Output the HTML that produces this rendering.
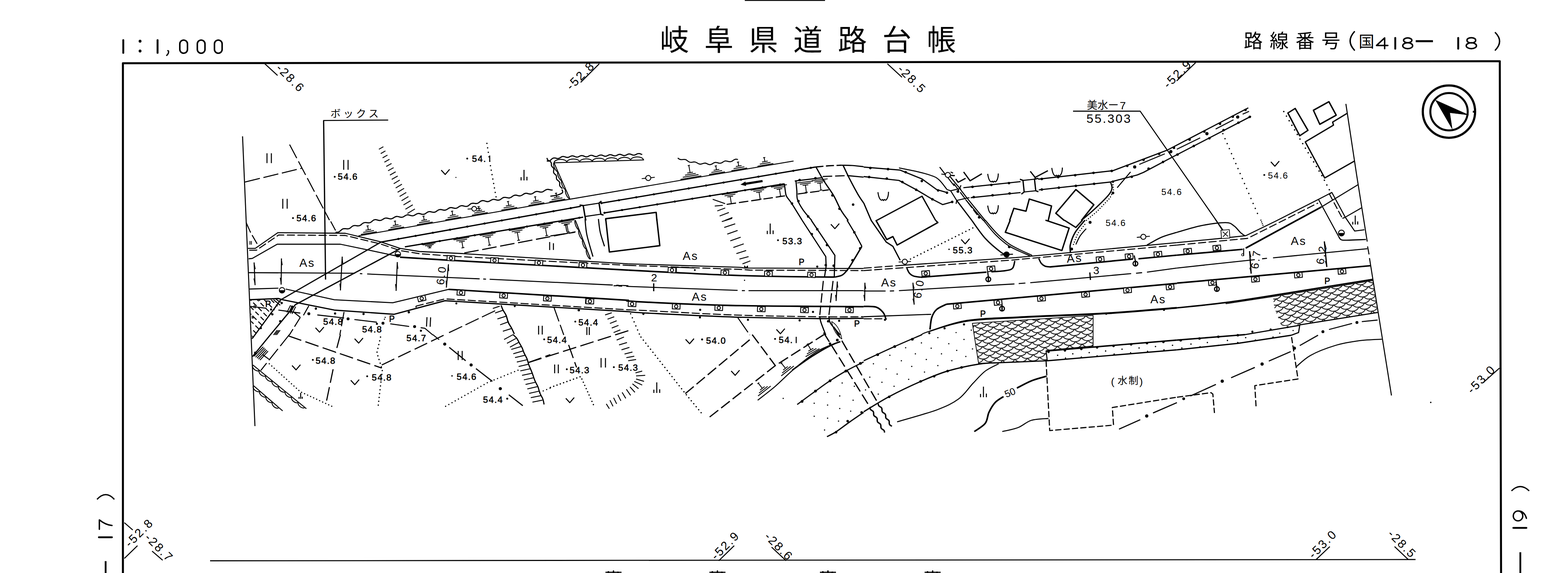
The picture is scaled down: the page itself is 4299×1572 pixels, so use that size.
<!DOCTYPE html>
<html><head><meta charset="utf-8"><title>map</title>
<style>html,body{margin:0;padding:0;background:#fff}svg{display:block}
text{font-family:"Liberation Sans",sans-serif;fill:#000;stroke:none}
</style></head><body>
<svg width="4299" height="1572" viewBox="0 0 4299 1572" fill="none" stroke="#000" stroke-linejoin="round">
<rect width="4299" height="1572" fill="#fff" stroke="none"/>
<path d="M337 1580 L337 173.5 L4112 168 L4115.5 1580" stroke-width="5.5"/>
<path d="M576 1538.5 L3881 1535" stroke-width="2.8"/>
<text x="1809" y="137.7" font-size="80" letter-spacing="42" style="font-family:'Liberation Sans','Noto Sans CJK JP',sans-serif">岐阜県道路台帳</text>
<text x="3410" y="130.5" font-size="52" letter-spacing="19" style="font-family:'Liberation Sans','Noto Sans CJK JP',sans-serif">路線番号</text>
<text x="3725" y="130" font-size="43" style="font-family:'Liberation Sans','Noto Sans CJK JP',sans-serif">国</text>
<path d="M3713.3 87 Q3690 112.5 3713.3 137.5 M4099.8 89.5 Q4123 113 4099.8 137.5" stroke-width="3.8" stroke-linecap="round"/>
<path d="M3796.3 133.5 V104 L3774 124.7 H3805" stroke-width="4" stroke-linecap="round"/>
<path d="M3848.2 110.6 a11.3 6.6 0 1 0 22.7 0 a11.3 6.6 0 1 0 -22.7 0 Z M3846 125.4 a13.5 8.1 0 1 0 27 0 a13.5 8.1 0 1 0 -27 0 Z" stroke-width="4" stroke-linecap="round"/>
<path d="M4022.2 110.6 a11.8 6.6 0 1 0 23.5 0 a11.8 6.6 0 1 0 -23.5 0 Z M4020 125.4 a14 8.1 0 1 0 28 0 a14 8.1 0 1 0 -28 0 Z" stroke-width="4" stroke-linecap="round"/>
<path d="M3825.4 104 L3825.4 133.5" stroke-width="5.2" stroke-linecap="round"/>
<path d="M3998 104 L3998 133.5" stroke-width="5.2" stroke-linecap="round"/>
<path d="M3881.5 113 L3928.7 113" stroke-width="5.5"/>
<path d="M338 110 L338 145" stroke-width="5.2" stroke-linecap="round"/>
<path d="M432 110 L432 145" stroke-width="5.2" stroke-linecap="round"/>
<circle cx="384" cy="113" r="3.9" fill="#000" stroke="none"/>
<circle cx="384" cy="140" r="3.9" fill="#000" stroke="none"/>
<path d="M460 139 q3 0 2 5 q-1 5 -5 8" stroke-width="3.5" stroke-linecap="round"/>
<path d="M493 120.5 a10.5 10.5 0 0 1 21 0 v15 a10.5 10.5 0 0 1 -21 0 Z" stroke-width="4.2" stroke-linecap="round"/>
<path d="M541 120.5 a10.5 10.5 0 0 1 21 0 v15 a10.5 10.5 0 0 1 -21 0 Z" stroke-width="4.2" stroke-linecap="round"/>
<path d="M588 120.5 a10.5 10.5 0 0 1 21 0 v15 a10.5 10.5 0 0 1 -21 0 Z" stroke-width="4.2" stroke-linecap="round"/>
<path d="M725 174 L761 207" stroke-width="2.8"/>
<text x="0" y="0" font-size="33" letter-spacing="4" transform="translate(755 189) rotate(45) scale(1 1)">-28.6</text>
<path d="M1643 175 L1592 226" stroke-width="2.8"/>
<text x="0" y="0" font-size="33" letter-spacing="4" transform="translate(1566 249) rotate(-45) scale(1 1)">-52.8</text>
<path d="M2433 175 L2473 212" stroke-width="2.8"/>
<text x="0" y="0" font-size="33" letter-spacing="4" transform="translate(2459 192) rotate(45) scale(1 1)">-28.5</text>
<path d="M3278 172 L3226 222" stroke-width="2.8"/>
<text x="0" y="0" font-size="33" letter-spacing="4" transform="translate(3203 244) rotate(-45) scale(1 1)">-52.9</text>
<path d="M4111 1010 L4066 1050" stroke-width="2.8"/>
<text x="0" y="0" font-size="33" letter-spacing="4" transform="translate(4036 1082) rotate(-45) scale(1 1)">-53.0</text>
<path d="M1970.5 1538.5 L2013 1497" stroke-width="2.8"/>
<text x="0" y="0" font-size="33" letter-spacing="4" transform="translate(1963 1538) rotate(-45) scale(1 1)">-52.9</text>
<path d="M2115.5 1501 L2155.5 1538.5" stroke-width="2.8"/>
<text x="0" y="0" font-size="33" letter-spacing="4" transform="translate(2094 1474) rotate(45) scale(1 1)">-28.6</text>
<path d="M3608.5 1535 L3646 1499.5" stroke-width="2.8"/>
<text x="0" y="0" font-size="33" letter-spacing="4" transform="translate(3601 1534) rotate(-45) scale(1 1)">-53.0</text>
<path d="M3823.5 1499.5 L3861 1535" stroke-width="2.8"/>
<text x="0" y="0" font-size="33" letter-spacing="4" transform="translate(3803 1467) rotate(45) scale(1 1)">-28.5</text>
<path d="M341 1434 L364 1454" stroke-width="2.8"/>
<path d="M341 1532 L377 1497" stroke-width="2.8"/>
<text x="0" y="0" font-size="33" letter-spacing="4" transform="translate(356 1503) rotate(-45) scale(1 1)">-52.8</text>
<path d="M417 1512 L446 1537" stroke-width="2.8"/>
<text x="0" y="0" font-size="33" letter-spacing="4" transform="translate(395 1477) rotate(45) scale(1 1)">-28.7</text>
<path d="M0 0 H25.7 Q11.6 17.4 10.3 34.7" stroke-width="3.8" stroke-linecap="round" transform="translate(272.4 1452) rotate(-90)"/>
<path d="M271 1474 L307 1474" stroke-width="4.9" stroke-linecap="round"/>
<path d="M289.6 1539.4 L289.6 1580" stroke-width="4.9"/>
<path d="M266 1370 Q290 1344 313.5 1370" stroke-width="3.5"/>
<path d="M27 13 a13.5 13 0 1 0 -27 0 a13.5 13 0 1 0 27 0 M27 13 Q27 30.6 6.8 36" stroke-width="3.8" stroke-linecap="round" transform="translate(4149 1428.9) rotate(-90)"/>
<path d="M4149 1448.2 L4185 1448.2" stroke-width="4.9" stroke-linecap="round"/>
<path d="M4168.3 1515 L4168.3 1580" stroke-width="4.9"/>
<path d="M4144 1346.7 Q4168 1323 4192.6 1346.7" stroke-width="3.5"/>
<circle cx="3972.6" cy="306.2" r="71.7" stroke-width="6" fill="none"/>
<circle cx="3972.8" cy="306.5" r="51.2" stroke-width="5.5" fill="none"/>
<path d="M3935.8 274.7 L4026.7 315.4 L3974.8 309.2 L3981.5 353.8 Z" fill="#000" stroke-width="1"/>
<path d="M4038 306.5 L4044 306.5" stroke-width="5"/>
<path d="M2042 1 L2262 1" stroke-width="2.8"/>
<path d="M1668 1567 L1668 1573" stroke-width="3.8"/>
<path d="M1682 1565 L1682 1573" stroke-width="3.8"/>
<path d="M1694 1568 L1694 1573" stroke-width="3.8"/>
<path d="M1660 1570 L1704 1570" stroke-width="3.1"/>
<path d="M1953 1567 L1953 1573" stroke-width="3.8"/>
<path d="M1967 1565 L1967 1573" stroke-width="3.8"/>
<path d="M1979 1568 L1979 1573" stroke-width="3.8"/>
<path d="M1945 1570 L1989 1570" stroke-width="3.1"/>
<path d="M2256 1567 L2256 1573" stroke-width="3.8"/>
<path d="M2270 1565 L2270 1573" stroke-width="3.8"/>
<path d="M2282 1568 L2282 1573" stroke-width="3.8"/>
<path d="M2248 1570 L2292 1570" stroke-width="3.1"/>
<path d="M2543 1567 L2543 1573" stroke-width="3.8"/>
<path d="M2557 1565 L2557 1573" stroke-width="3.8"/>
<path d="M2569 1568 L2569 1573" stroke-width="3.8"/>
<path d="M2535 1570 L2579 1570" stroke-width="3.1"/>
<path d="M665 374 L699 1169" stroke-width="2.8"/>
<path d="M671.7 499.3 L826.7 461.7" stroke-width="2.8" stroke-dasharray="42 10"/>
<path d="M794 396.7 L903.3 604" stroke-width="2.8" stroke-dasharray="42 10"/>
<path transform="translate(738 434) rotate(0)" d="M-6 -13.5 V13.5 M6 -13.5 V13.5" stroke-width="2.8"/>
<path transform="translate(948.3 452.3) rotate(0)" d="M-6 -13.5 V13.5 M6 -13.5 V13.5" stroke-width="2.8"/>
<path transform="translate(781.3 559) rotate(0)" d="M-6 -13.5 V13.5 M6 -13.5 V13.5" stroke-width="2.8"/>
<text x="906" y="322" font-size="28" letter-spacing="7" style="font-family:'Liberation Sans','Noto Sans CJK JP',sans-serif">ボックス</text>
<path d="M886 330.7 L1064.3 329.3" stroke-width="2.8"/>
<path d="M887.3 330.7 L892.6 767" stroke-width="3.4"/>
<circle cx="917.7" cy="485" r="2.5" fill="#000" stroke="none"/>
<text x="926" y="493.3" font-size="24.5" letter-spacing="2" style="stroke:#000;stroke-width:0.8px;stroke-linejoin:round">54.6</text>
<circle cx="803.3" cy="598.3" r="2.5" fill="#000" stroke="none"/>
<text x="812.7" y="607.3" font-size="24.5" letter-spacing="2" style="stroke:#000;stroke-width:0.8px;stroke-linejoin:round">54.6</text>
<circle cx="1281" cy="435" r="2.5" fill="#000" stroke="none"/>
<text x="1294" y="444" font-size="24.5" letter-spacing="2" style="stroke:#000;stroke-width:0.8px;stroke-linejoin:round">54.</text>
<path d="M1342.7 426.7 L1342.7 444" stroke-width="2.8"/>
<path d="M1038.9 409.5 L1051.1 402.5" stroke-width="2.5"/>
<path d="M1043.9 421.3 L1056.7 414" stroke-width="2.5"/>
<path d="M1049 433.1 L1062.3 425.5" stroke-width="2.5"/>
<path d="M1054 444.9 L1067.9 437" stroke-width="2.5"/>
<path d="M1059 456.7 L1073.5 448.5" stroke-width="2.5"/>
<path d="M1064 468.5 L1079.1 460" stroke-width="2.5"/>
<path d="M1069.1 480.3 L1084.7 471.4" stroke-width="2.5"/>
<path d="M1074.1 492.1 L1090.3 482.9" stroke-width="2.5"/>
<path d="M1079.5 504 L1096 494" stroke-width="2.5"/>
<path d="M1084.9 515.7 L1102 505.3" stroke-width="2.5"/>
<path d="M1090.2 527.4 L1107.9 516.7" stroke-width="2.5"/>
<path d="M1095.6 539 L1113.8 528" stroke-width="2.5"/>
<path d="M1100.9 550.7 L1119.8 539.3" stroke-width="2.5"/>
<path d="M1106.3 562.3 L1125.7 550.6" stroke-width="2.5"/>
<path d="M1111.6 574 L1131.6 561.9" stroke-width="2.5"/>
<path d="M1117 585.7 L1137.5 573.2" stroke-width="2.5"/>
<path d="M1209.7 466.7 L1220.7 478.7 L1232.7 464.7" stroke-width="2.8"/>
<circle cx="1250" cy="486.7" r="1.5" fill="#000" stroke="none"/>
<path d="M1335 393.3 L1345 456.7 L1360 540" stroke-width="3.7" stroke-dasharray="0.1 12.3" stroke-linecap="round"/>
<path d="M1436.7 495 v-29 M1428.7 495 v-9 M1444.7 495 v-10" stroke-width="2.8"/>
<path d="M920 637 C920.7 637 922.7 637.3 924 637.3 C925.4 637.2 926.6 637.1 927.8 636.7 C929 636.3 930.1 635.7 931.2 634.9 C932.2 634.2 933.2 633.1 934.2 632.3 C935.3 631.4 936.2 630.3 937.3 629.6 C938.4 628.9 939.5 628.2 940.6 627.8 C941.8 627.4 943.1 627.3 944.4 627.2 C945.7 627.2 947.1 627.4 948.5 627.5 C949.8 627.6 951.2 627.9 952.5 627.9 C953.8 627.9 955.1 627.8 956.3 627.5 C957.5 627.2 958.6 626.5 959.7 625.9 C960.8 625.2 961.8 624.2 962.9 623.3 C963.9 622.5 964.9 621.5 966 620.8 C967.1 620.1 968.3 619.5 969.5 619.1 C970.7 618.8 971.9 618.7 973.3 618.7 C974.6 618.7 975.9 619 977.3 619.2 C978.6 619.4 980 619.7 981.3 619.7 C982.6 619.7 983.9 619.6 985.1 619.3 C986.3 618.9 987.4 618.3 988.5 617.6 C989.6 616.9 990.6 615.9 991.7 615.1 C992.8 614.2 993.8 613.2 994.9 612.5 C996 611.8 997.1 611.2 998.3 610.9 C999.5 610.5 1000.8 610.5 1002.1 610.5 C1003.4 610.5 1004.8 610.8 1006.1 610.9 C1007.5 611.1 1008.8 611.4 1010.2 611.4 C1011.5 611.4 1012.7 611.3 1013.9 611 C1015.1 610.6 1016.3 610 1017.4 609.3 C1018.5 608.6 1019.5 607.6 1020.5 606.8 C1021.6 605.9 1022.6 604.9 1023.7 604.2 C1024.9 603.5 1026.2 602.9 1027.4 602.7 C1028.7 602.4 1030 602.6 1031.3 602.7 C1032.5 602.9 1033.9 603.4 1035.2 603.7 C1036.5 604.1 1037.8 604.5 1039.1 604.7 C1040.4 604.9 1041.7 605 1042.9 604.8 C1044.2 604.6 1045.4 604.2 1046.5 603.6 C1047.7 603.1 1048.9 602.2 1050 601.5 C1051.2 600.8 1052.3 600 1053.5 599.5 C1054.7 598.9 1055.9 598.4 1057.1 598.3 C1058.4 598.1 1059.6 598.2 1060.9 598.4 C1062.2 598.5 1063.6 599 1064.9 599.3 C1066.2 599.7 1067.5 600.2 1068.8 600.3 C1070.1 600.5 1071.4 600.6 1072.6 600.4 C1073.8 600.2 1075 599.8 1076.2 599.2 C1077.4 598.7 1078.5 597.8 1079.7 597.1 C1080.9 596.4 1082 595.6 1083.2 595.1 C1084.4 594.5 1085.6 594.1 1086.8 593.9 C1088 593.7 1089.3 593.8 1090.6 594 C1091.9 594.1 1093.2 594.6 1094.5 594.9 C1095.9 595.3 1097.2 595.8 1098.5 595.9 C1099.8 596.1 1101 596.2 1102.3 596 C1103.5 595.8 1104.7 595.4 1105.9 594.8 C1107.1 594.3 1108.2 593.4 1109.4 592.7 C1110.5 592 1111.7 591.2 1112.9 590.7 C1114.1 590.1 1115.3 589.6 1116.5 589.5 C1117.8 589.3 1119 589.4 1120.3 589.6 C1121.6 589.9 1122.9 590.4 1124.2 590.7 C1125.5 591.1 1126.9 591.6 1128.2 591.8 C1129.4 592 1130.7 592.1 1132 592 C1133.2 591.8 1134.4 591.4 1135.6 590.9 C1136.8 590.3 1137.9 589.5 1139.1 588.9 C1140.3 588.2 1141.5 587.4 1142.7 586.9 C1143.8 586.3 1145.1 585.9 1146.3 585.7 C1147.5 585.6 1148.8 585.7 1150.1 585.9 C1151.4 586.1 1152.7 586.7 1154 587 C1155.3 587.3 1156.7 587.8 1158 588 C1159.3 588.1 1160.6 588.1 1161.8 587.9 C1163 587.7 1164.2 587.2 1165.4 586.6 C1166.5 586 1167.6 585.1 1168.8 584.3 C1169.9 583.6 1171 582.7 1172.1 582.1 C1173.3 581.5 1174.5 581 1175.7 580.7 C1176.9 580.5 1178.2 580.5 1179.5 580.6 C1180.8 580.8 1182.2 581.2 1183.5 581.5 C1184.8 581.7 1186.2 582.1 1187.5 582.3 C1188.8 582.4 1190 582.4 1191.3 582.2 C1192.5 581.9 1193.7 581.4 1194.8 580.8 C1196 580.2 1197.1 579.3 1198.2 578.6 C1199.3 577.8 1200.4 576.9 1201.6 576.3 C1202.8 575.7 1203.9 575.2 1205.2 575 C1206.4 574.8 1207.7 574.8 1209 574.9 C1210.3 575 1211.6 575.5 1212.9 575.7 C1214.3 576 1215.6 576.4 1216.9 576.5 C1218.2 576.7 1219.5 576.7 1220.7 576.5 C1221.9 576.3 1223.1 575.8 1224.3 575.2 C1225.4 574.7 1226.6 573.8 1227.7 573.1 C1228.8 572.3 1230 571.5 1231.1 570.9 C1232.3 570.3 1233.5 569.8 1234.7 569.6 C1235.9 569.4 1237.2 569.5 1238.5 569.6 C1239.8 569.7 1241.2 570.2 1242.5 570.5 C1243.8 570.8 1245.1 571.2 1246.4 571.4 C1247.7 571.5 1249 571.6 1250.2 571.4 C1251.5 571.1 1252.7 570.7 1253.8 570.1 C1255 569.5 1256.1 568.6 1257.2 567.9 C1258.4 567.2 1259.5 566.3 1260.7 565.7 C1261.8 565.1 1263 564.7 1264.3 564.4 C1265.5 564.2 1266.8 564.3 1268.1 564.4 C1269.4 564.6 1270.7 565 1272 565.3 C1273.3 565.6 1274.7 566.1 1276 566.2 C1277.3 566.3 1278.6 566.4 1279.8 566.2 C1281 566 1282.2 565.5 1283.4 564.9 C1284.5 564.3 1285.6 563.2 1286.7 562.3 C1287.8 561.5 1288.8 560.5 1289.8 559.8 C1290.9 559 1292.1 558.4 1293.3 558.1 C1294.5 557.7 1295.7 557.6 1297 557.6 C1298.3 557.6 1299.7 557.9 1301.1 558 C1302.4 558.1 1303.8 558.4 1305.1 558.4 C1306.4 558.4 1307.7 558.3 1308.9 558 C1310.1 557.6 1311.2 557 1312.3 556.3 C1313.4 555.6 1314.3 554.5 1315.4 553.7 C1316.5 552.9 1317.7 552 1318.9 551.5 C1320.1 551 1321.4 550.6 1322.6 550.4 C1323.8 550.3 1325.1 550.4 1326.4 550.6 C1327.7 550.9 1329 551.4 1330.3 551.8 C1331.6 552.1 1332.9 552.7 1334.2 552.9 C1335.5 553.1 1336.8 553.2 1338 553.1 C1339.2 552.9 1340.4 552.5 1341.6 552 C1342.8 551.5 1344 550.7 1345.2 550 C1346.4 549.4 1347.5 548.6 1348.7 548.1 C1349.9 547.6 1351.2 547.1 1352.4 547 C1353.6 546.9 1354.9 547 1356.2 547.2 C1357.5 547.4 1358.8 548 1360.1 548.3 C1361.4 548.6 1362.8 549 1364.1 549.1 C1365.4 549.2 1366.7 549.2 1367.9 549 C1369.1 548.7 1370.3 548.2 1371.4 547.6 C1372.6 547 1373.7 546 1374.8 545.3 C1375.9 544.5 1377 543.6 1378.1 543 C1379.3 542.4 1380.5 541.9 1381.7 541.6 C1382.9 541.4 1384.2 541.4 1385.5 541.5 C1386.8 541.6 1388.2 542 1389.5 542.3 C1390.8 542.5 1392.2 542.9 1393.5 543 C1394.8 543.1 1396 543.2 1397.3 542.9 C1398.5 542.7 1399.7 542.1 1400.8 541.5 C1402 540.9 1403.1 540 1404.2 539.2 C1405.3 538.5 1406.4 537.6 1407.5 537 C1408.7 536.3 1409.8 535.8 1411.1 535.6 C1412.3 535.3 1413.6 535.3 1414.9 535.4 C1416.2 535.6 1417.6 536 1418.9 536.3 C1420.2 536.6 1421.5 537.1 1422.8 537.2 C1424.1 537.4 1425.4 537.4 1426.6 537.2 C1427.9 537 1429.1 536.6 1430.2 536 C1431.4 535.4 1432.5 534.5 1433.7 533.8 C1434.8 533.1 1435.9 532.2 1437.1 531.7 C1438.3 531.1 1439.5 530.6 1440.7 530.4 C1441.9 530.2 1443.2 530.3 1444.5 530.4 C1445.8 530.6 1447.2 531.1 1448.5 531.4 C1449.8 531.7 1451.1 532.1 1452.4 532.3 C1453.7 532.4 1455 532.5 1456.2 532.3 C1457.5 532.1 1458.7 531.6 1459.8 531.1 C1461 530.5 1462.1 529.6 1463.3 528.9 C1464.4 528.2 1465.5 527.3 1466.7 526.7 C1467.8 526.2 1469 525.6 1470.2 525.4 C1471.5 525.2 1472.7 525.2 1474 525.3 C1475.3 525.4 1476.7 525.9 1478 526.1 C1479.3 526.4 1480.7 526.8 1482 527 C1483.3 527.1 1484.6 527.1 1485.8 526.9 C1487 526.6 1488.2 526.1 1489.3 525.5 C1490.5 524.9 1491.6 524 1492.7 523.3 C1493.9 522.5 1495 521.7 1496.1 521.1 C1497.3 520.5 1498.5 519.9 1499.7 519.7 C1500.9 519.5 1502.2 519.5 1503.5 519.6 C1504.8 519.8 1506.1 520.2 1507.5 520.4 C1508.8 520.7 1510.1 521.1 1511.4 521.3 C1512.7 521.4 1514.6 521.2 1515.2 521.2" stroke-width="3.1"/>
<g transform="translate(1300 572.7) rotate(-3)"><path d="M-18 0 H18" stroke-width="2.4"/><circle r="6.5" stroke-width="2.4" fill="#fff"/></g>
<path d="M1499 441.7 C1499.6 441.7 1501.4 442 1502.5 442 C1503.7 442 1504.8 441.9 1505.8 441.5 C1506.8 441.2 1507.8 440.6 1508.7 440 C1509.6 439.3 1510.5 438.4 1511.4 437.6 C1512.2 436.8 1513.1 435.9 1514 435.3 C1514.9 434.6 1515.9 434 1516.9 433.7 C1517.9 433.3 1519 433.2 1520.2 433.2 C1521.3 433.2 1522.6 433.5 1523.8 433.8 C1524.9 434.1 1526.1 434.6 1527.2 434.8 C1528.3 435 1529.4 435.1 1530.5 434.9 C1531.5 434.8 1532.6 434.4 1533.6 433.9 C1534.6 433.4 1535.6 432.7 1536.6 432.1 C1537.7 431.5 1538.7 430.7 1539.7 430.3 C1540.7 429.8 1541.8 429.4 1542.8 429.3 C1543.9 429.1 1545 429.2 1546.1 429.4 C1547.2 429.6 1548.4 430 1549.5 430.4 C1550.6 430.7 1551.7 431.1 1552.8 431.4 C1553.9 431.7 1555 431.9 1556.1 431.9 C1557.1 431.9 1558.2 431.6 1559.3 431.2 C1560.4 430.8 1561.4 430.2 1562.5 429.7 C1563.6 429.2 1564.6 428.6 1565.7 428.2 C1566.8 427.8 1567.9 427.5 1568.9 427.5 C1570 427.5 1571.1 427.7 1572.2 428 C1573.3 428.3 1574.4 428.9 1575.5 429.3 C1576.6 429.8 1577.7 430.3 1578.8 430.6 C1579.9 430.9 1581 431.2 1582.1 431.1 C1583.1 431.1 1584.2 430.8 1585.3 430.4 C1586.4 430.1 1587.4 429.4 1588.5 428.9 C1589.6 428.4 1590.6 427.8 1591.7 427.4 C1592.8 427.1 1593.8 426.8 1594.9 426.7 C1596 426.7 1597.1 426.9 1598.2 427.2 C1599.3 427.5 1600.4 428.1 1601.5 428.5 C1602.6 429 1603.7 429.6 1604.8 429.9 C1605.9 430.2 1607 430.4 1608 430.4 C1609.1 430.3 1610.2 430 1611.3 429.7 C1612.3 429.3 1613.4 428.7 1614.5 428.2 C1615.5 427.7 1616.6 427 1617.7 426.6 C1618.8 426.3 1619.8 426 1620.9 426 C1622 425.9 1623.1 426.2 1624.2 426.5 C1625.3 426.8 1626.4 427.3 1627.5 427.8 C1628.6 428.2 1629.7 428.8 1630.8 429.1 C1631.9 429.4 1632.9 429.6 1634 429.6 C1635.1 429.5 1636.2 429.3 1637.3 428.9 C1638.3 428.5 1639.4 427.9 1640.5 427.4 C1641.5 426.9 1642.6 426.2 1643.7 425.9 C1644.7 425.5 1645.8 425.2 1646.9 425.2 C1648 425.1 1649.1 425.3 1650.2 425.6 C1651.3 425.9 1652.4 426.5 1653.5 426.9 C1654.6 427.4 1655.7 427.9 1656.8 428.2 C1657.9 428.5 1658.9 428.8 1660 428.7 C1661.1 428.7 1662.2 428.4 1663.3 428 C1664.3 427.6 1665.4 427 1666.5 426.5 C1667.5 426 1668.6 425.3 1669.7 425 C1670.7 424.6 1671.8 424.3 1672.9 424.3 C1674 424.2 1675.1 424.4 1676.1 424.7 C1677.2 425 1678.3 425.6 1679.4 426 C1680.5 426.5 1681.6 427 1682.7 427.3 C1683.8 427.6 1684.9 427.8 1686 427.8 C1687.1 427.8 1688.2 427.5 1689.2 427.1 C1690.3 426.7 1691.4 426.1 1692.4 425.6 C1693.5 425.1 1694.6 424.4 1695.6 424.1 C1696.7 423.7 1697.8 423.4 1698.9 423.4 C1699.9 423.3 1701 423.5 1702.1 423.8 C1703.2 424.1 1704.3 424.7 1705.4 425.1 C1706.5 425.6 1707.6 426.1 1708.7 426.4 C1709.8 426.7 1710.9 426.9 1712 426.9 C1713.1 426.8 1714.2 426.5 1715.2 426.1 C1716.3 425.8 1717.4 425.1 1718.4 424.6 C1719.5 424.1 1720.5 423.4 1721.6 423 C1722.7 422.7 1723.7 422.4 1724.8 422.3 C1725.9 422.3 1727 422.5 1728.1 422.7 C1729.2 423 1730.3 423.6 1731.4 424 C1732.5 424.4 1733.6 425 1734.7 425.3 C1735.8 425.6 1736.9 425.8 1738 425.7 C1739.1 425.7 1740.1 425.4 1741.2 425 C1742.3 424.6 1743.3 424 1744.4 423.5 C1745.5 422.9 1746.5 422.3 1747.6 421.9 C1748.6 421.5 1749.7 421.2 1750.8 421.2 C1751.9 421.1 1753 421.3 1754.1 421.6 C1755.2 421.9 1756.3 422.5 1757.4 422.9 C1758.5 423.3 1760.1 423.9 1760.7 424.2" stroke-width="3.1"/>
<path d="M1519 446.7 L1765.7 438.7" stroke-width="2.5"/>
<path d="M1519 446.7 A17.5 8.8 -1.9 0 1 1554 445.5 M1554 445.5 A17.5 8.8 -1.9 0 1 1589 444.4 M1589 444.4 A17.5 8.8 -1.9 0 1 1623.9 443.3 M1623.9 443.3 A17.5 8.8 -1.9 0 1 1658.9 442.1 M1658.9 442.1 A17.5 8.8 -1.9 0 1 1693.9 441 M1693.9 441 A17.5 8.8 -1.9 0 1 1728.9 439.9 M1728.9 439.9 A17.5 8.8 -1.9 0 1 1763.9 438.7 " stroke-width="2.5"/>
<path d="M1519 446.7 L1562.3 545" stroke-width="2.5"/>
<path d="M1519 446.7 A13.4 4.7 66.2 0 0 1529.8 471.2 M1529.8 471.2 A13.4 4.7 66.2 0 0 1540.6 495.7 M1540.6 495.7 A13.4 4.7 66.2 0 0 1551.4 520.2 M1551.4 520.2 A13.4 4.7 66.2 0 0 1562.2 544.8 " stroke-width="2.5"/>
<path d="M1499.7 433.3 C1499.8 433.8 1500 435.2 1500.3 436 C1500.6 436.8 1500.9 437.6 1501.4 438.3 C1501.9 438.9 1502.6 439.5 1503.3 440 C1504 440.5 1504.9 440.9 1505.7 441.3 C1506.5 441.7 1507.4 442.1 1508.1 442.6 C1508.8 443.1 1509.5 443.6 1510 444.3 C1510.5 445 1510.9 445.8 1511.2 446.6 C1511.4 447.4 1511.7 448.4 1511.8 449.3 C1511.9 450.1 1511.7 451 1511.7 451.8 C1511.8 452.7 1511.8 453.6 1512 454.4 C1512.3 455.2 1512.7 455.9 1513.2 456.6 C1513.7 457.3 1514.4 458 1515 458.7 C1515.6 459.3 1516.4 460 1516.9 460.7 C1517.4 461.4 1517.8 462.2 1518.1 462.9 C1518.3 463.7 1518.4 464.6 1518.4 465.5 C1518.3 466.3 1518.1 467.3 1518 468.2 C1517.9 469.1 1517.7 470 1517.7 470.9 C1517.7 471.8 1517.7 472.7 1518 473.4 C1518.2 474.2 1518.6 475 1519.2 475.7 C1519.7 476.4 1520.5 477.1 1521.2 477.7 C1521.9 478.3 1522.7 478.8 1523.3 479.4 C1523.9 480 1524.5 480.7 1524.8 481.4 C1525.2 482.2 1525.4 483 1525.5 483.9 C1525.7 484.7 1525.6 485.7 1525.6 486.6 C1525.7 487.5 1525.6 488.5 1525.7 489.4 C1525.9 490.2 1526.1 491.1 1526.4 491.8 C1526.8 492.6 1527.4 493.2 1528 493.8 C1528.6 494.5 1529.4 495 1530.1 495.6 C1530.8 496.1 1531.6 496.7 1532.2 497.3 C1532.9 497.9 1533.4 498.6 1533.8 499.3 C1534.2 500.1 1534.4 500.9 1534.5 501.8 C1534.6 502.6 1534.5 503.6 1534.5 504.6 C1534.5 505.5 1534.3 506.4 1534.4 507.3 C1534.4 508.2 1534.5 509 1534.9 509.8 C1535.2 510.6 1535.7 511.3 1536.2 511.9 C1536.8 512.6 1537.5 513.2 1538.2 513.8 C1538.9 514.5 1539.6 515.1 1540.2 515.7 C1540.7 516.4 1541.3 517.5 1541.5 517.9" stroke-width="3.1"/>
<path d="M1540.7 520 C1540.9 521.4 1544.3 525.8 1542.3 528.3 C1540.4 530.8 1534.6 533.3 1529 535 C1523.4 536.7 1512.3 537.8 1509 538.3" stroke-width="3.1"/>
<path d="M983 647 L1509 555.7 L2175.7 441.7" stroke-width="2.5"/>
<path d="M1858.3 433.3 C1858.8 433.7 1860.2 435.1 1861.2 435.8 C1862.2 436.4 1863.3 437 1864.4 437.4 C1865.5 437.8 1866.7 437.9 1867.9 437.9 C1869.1 438 1870.4 437.8 1871.6 437.7 C1872.9 437.6 1874.2 437.4 1875.4 437.4 C1876.6 437.4 1877.7 437.4 1878.8 437.7 C1879.9 438 1881 438.5 1882.1 439.1 C1883.1 439.8 1884.1 440.6 1885.1 441.4 C1886.2 442.1 1887.1 443 1888.2 443.6 C1889.2 444.2 1890.3 444.7 1891.4 445 C1892.6 445.3 1893.8 445.3 1895 445.3 C1896.2 445.2 1897.5 444.9 1898.7 444.8 C1900 444.6 1901.2 444.3 1902.5 444.2 C1903.7 444.2 1904.9 444.2 1906 444.5 C1907.1 444.8 1908.2 445.4 1909.3 445.9 C1910.3 446.5 1911.3 447.1 1912.4 447.6 C1913.5 448.2 1914.6 448.9 1915.8 449.4 C1916.9 449.8 1918 450.2 1919.2 450.3 C1920.3 450.4 1921.5 450.2 1922.7 450 C1923.9 449.8 1925.1 449.3 1926.3 448.9 C1927.5 448.5 1928.8 448 1929.9 447.8 C1931.1 447.6 1932.3 447.4 1933.5 447.5 C1934.6 447.6 1935.8 448 1936.9 448.4 C1938.1 448.9 1939.1 449.6 1940.3 450.1 C1941.5 450.7 1942.7 451.3 1944 451.5 C1945.2 451.8 1946.3 451.8 1947.5 451.6 C1948.7 451.5 1949.8 451.1 1950.9 450.6 C1952 450.1 1953.1 449.3 1954.2 448.7 C1955.2 448 1956.3 447.3 1957.4 446.8 C1958.5 446.3 1959.7 445.9 1960.8 445.7 C1962 445.6 1963.2 445.7 1964.4 445.8 C1965.6 446 1966.8 446.4 1968 446.7 C1969.2 447 1970.5 447.5 1971.7 447.7 C1972.9 447.8 1974.1 447.9 1975.2 447.7 C1976.4 447.6 1977.5 447.2 1978.6 446.7 C1979.7 446.2 1980.8 445.4 1981.9 444.7 C1983 444.1 1984 443.3 1985.1 442.8 C1986.2 442.3 1987.3 441.9 1988.5 441.7 C1989.7 441.5 1990.8 441.6 1992 441.8 C1993.3 441.9 1994.5 442.4 1995.7 442.7 C1996.9 443 1998.2 443.4 1999.4 443.5 C2000.6 443.7 2001.8 443.8 2002.9 443.6 C2004.1 443.4 2005.2 443 2006.3 442.5 C2007.4 442 2008.5 441.2 2009.6 440.5 C2010.6 439.9 2011.6 439 2012.6 438.4 C2013.7 437.8 2014.8 437.3 2015.9 437 C2017.1 436.8 2018.3 436.7 2019.5 436.8 C2020.7 436.9 2022.6 437.3 2023.2 437.4" stroke-width="2.8"/>
<g transform="translate(1777.3 488.3) rotate(-6)"><path d="M-18 0 H18" stroke-width="2.4"/><circle r="7" stroke-width="2.4" fill="#fff"/></g>
<path d="M1045 664 L1592.3 566" stroke-width="3.5"/>
<circle cx="1092.2" cy="655.5" r="2.9" fill="#000" stroke="none"/>
<circle cx="1139.5" cy="647.1" r="2.9" fill="#000" stroke="none"/>
<circle cx="1186.7" cy="638.6" r="2.9" fill="#000" stroke="none"/>
<circle cx="1234" cy="630.2" r="2.9" fill="#000" stroke="none"/>
<circle cx="1281.2" cy="621.7" r="2.9" fill="#000" stroke="none"/>
<circle cx="1328.5" cy="613.2" r="2.9" fill="#000" stroke="none"/>
<circle cx="1375.7" cy="604.8" r="2.9" fill="#000" stroke="none"/>
<circle cx="1423" cy="596.3" r="2.9" fill="#000" stroke="none"/>
<circle cx="1470.2" cy="587.9" r="2.9" fill="#000" stroke="none"/>
<circle cx="1517.5" cy="579.4" r="2.9" fill="#000" stroke="none"/>
<circle cx="1564.7" cy="570.9" r="2.9" fill="#000" stroke="none"/>
<path d="M1649 557.3 L2235.7 458.3" stroke-width="3.5"/>
<circle cx="1649" cy="557.3" r="2.9" fill="#000" stroke="none"/>
<circle cx="1696.8" cy="549.3" r="2.9" fill="#000" stroke="none"/>
<circle cx="1744.6" cy="541.2" r="2.9" fill="#000" stroke="none"/>
<circle cx="1792.5" cy="533.1" r="2.9" fill="#000" stroke="none"/>
<circle cx="1840.3" cy="525.1" r="2.9" fill="#000" stroke="none"/>
<circle cx="1888.1" cy="517" r="2.9" fill="#000" stroke="none"/>
<circle cx="1935.9" cy="508.9" r="2.9" fill="#000" stroke="none"/>
<circle cx="1983.8" cy="500.8" r="2.9" fill="#000" stroke="none"/>
<circle cx="2031.6" cy="492.8" r="2.9" fill="#000" stroke="none"/>
<circle cx="2079.4" cy="484.7" r="2.9" fill="#000" stroke="none"/>
<circle cx="2127.2" cy="476.6" r="2.9" fill="#000" stroke="none"/>
<circle cx="2175.1" cy="468.6" r="2.9" fill="#000" stroke="none"/>
<circle cx="2222.9" cy="460.5" r="2.9" fill="#000" stroke="none"/>
<path d="M2235.7 458.3 L2272.3 454.7 L2307.3 453.3" stroke-width="3.4" stroke-dasharray="22 7"/>
<path d="M2307.3 453.3 C2312.1 453.4 2325.6 453.3 2335.7 454 C2345.7 454.7 2362.3 456.8 2367.7 457.3" stroke-width="3.2"/>
<path d="M1657.3 584 L2150.7 504.3" stroke-width="3.5"/>
<circle cx="1657.3" cy="584" r="2.9" fill="#000" stroke="none"/>
<circle cx="1705.5" cy="576.2" r="2.9" fill="#000" stroke="none"/>
<circle cx="1753.7" cy="568.4" r="2.9" fill="#000" stroke="none"/>
<circle cx="1801.9" cy="560.7" r="2.9" fill="#000" stroke="none"/>
<circle cx="1850" cy="552.9" r="2.9" fill="#000" stroke="none"/>
<circle cx="1898.2" cy="545.1" r="2.9" fill="#000" stroke="none"/>
<circle cx="1946.4" cy="537.3" r="2.9" fill="#000" stroke="none"/>
<circle cx="1994.6" cy="529.5" r="2.9" fill="#000" stroke="none"/>
<circle cx="2042.7" cy="521.8" r="2.9" fill="#000" stroke="none"/>
<circle cx="2090.9" cy="514" r="2.9" fill="#000" stroke="none"/>
<circle cx="2139.1" cy="506.2" r="2.9" fill="#000" stroke="none"/>
<path d="M2150.7 504.3 C2151.1 507.5 2152.1 517.7 2153 523.3 C2153.9 529 2153.4 532.5 2156.3 538.3 C2159.3 544.2 2163.6 547.4 2170.7 558.3 C2177.8 569.3 2194.3 596.4 2199 604" stroke-width="3.2"/>
<path d="M2090.7 496.7 L2039 505" stroke-width="5.9"/>
<path d="M2030.7 506.3 L2043.6 498.2 L2045.4 510.1 Z" fill="#000" stroke-width="0.5"/>
<path transform="translate(2000.7 530.7) rotate(-9)" d="M-22 0 H22 M-15 4.3 H15 M-8 8.6 H8 M0 8.6 V28.6 M-4 28.6 H4" stroke-width="2.3"/>
<path transform="translate(2079.7 518.3) rotate(-9)" d="M-22 0 H22 M-15 4.3 H15 M-8 8.6 H8 M0 8.6 V28.6 M-4 28.6 H4" stroke-width="2.3"/>
<path transform="translate(2135.7 510) rotate(-9)" d="M-22 0 H22 M-15 4.3 H15 M-8 8.6 H8 M0 8.6 V28.6 M-4 28.6 H4" stroke-width="2.3"/>
<path d="M1992.3 560.7 L2152.3 537.3" stroke-width="3.1" stroke-dasharray="26 8"/>
<path d="M2179 496.7 L2255.7 487.3" stroke-width="3.2"/>
<circle cx="2192.3" cy="494" r="3.4" fill="#000" stroke="none"/>
<circle cx="2235.7" cy="489" r="3.4" fill="#000" stroke="none"/>
<path transform="translate(2207.3 499.3) rotate(-7)" d="M-22 0 H22 M-15 4.3 H15 M-8 8.6 H8 M0 8.6 V28.6 M-4 28.6 H4" stroke-width="2.3"/>
<path transform="translate(2247.3 493.3) rotate(-7)" d="M-22 0 H22 M-15 4.3 H15 M-8 8.6 H8 M0 8.6 V28.6 M-4 28.6 H4" stroke-width="2.3"/>
<path d="M2187.3 532.3 L2272.3 520.7" stroke-width="3.1" stroke-dasharray="26 8"/>
<path d="M2182.3 496.7 C2182.7 501.1 2183.9 514.7 2184.7 523.3 C2185.4 531.9 2183.7 539.4 2186.7 548.3 C2189.6 557.2 2195.8 567.2 2202.3 576.7 C2208.8 586.1 2221.8 600.3 2225.7 605" stroke-width="3.2"/>
<path d="M1954 546.7 L1988 558.7" stroke-width="2.5"/>
<path d="M1959.7 565.3 L1981.7 563.3" stroke-width="2.5"/>
<path d="M1966.7 578.7 L1988.3 570.7" stroke-width="2.5"/>
<path d="M1973 592.7 L1998.3 583" stroke-width="2.5"/>
<path d="M1987.3 605 L2008 596.7" stroke-width="2.5"/>
<path d="M2236.7 457.3 C2240.4 463.9 2250.8 483.4 2259 496.7 C2267.2 509.9 2277.9 523.3 2285.7 536.7 C2293.4 550 2299 565.3 2305.7 576.7 C2312.3 588.1 2322.3 600.3 2325.7 605" stroke-width="3.4"/>
<path d="M2311.7 454 C2314.6 460 2322.2 476.8 2329 490 C2335.8 503.2 2345.9 522.2 2352.3 533.3 C2358.8 544.4 2365.1 552.8 2367.7 556.7" stroke-width="3.4"/>
<path d="M2255.7 484.3 L2322.3 481.7" stroke-width="3.1" stroke-dasharray="26 8"/>
<path d="M2322.3 481.7 L2367.7 486" stroke-width="3.2"/>
<circle cx="2282.3" cy="536" r="3.4" fill="#000" stroke="none"/>
<circle cx="2301.7" cy="572.7" r="3.4" fill="#000" stroke="none"/>
<circle cx="2339" cy="561.3" r="3.4" fill="#000" stroke="none"/>
<circle cx="2189" cy="551.7" r="3.4" fill="#000" stroke="none"/>
<circle cx="2171.3" cy="558.3" r="3.4" fill="#000" stroke="none"/>
<circle cx="2215.7" cy="594" r="3.4" fill="#000" stroke="none"/>
<path d="M1660.7 605 L1660.7 600 L1799 582.7 L1801 605" stroke-width="3.8"/>
<path d="M1589 562.7 L1599 564 L1604 594 L1606.3 605" stroke-width="3.8"/>
<path d="M1649 551.7 L1642.3 557.3 L1647.3 587.7 L1654.7 590.3" stroke-width="3.8"/>
<path d="M1599 564 L1642.3 557.3" stroke-width="2.8"/>
<path d="M1604 594 L1647.3 587.7" stroke-width="2.8"/>
<path d="M1110 677.3 L1599 595.7" stroke-width="3.5"/>
<circle cx="1157.8" cy="669.3" r="2.9" fill="#000" stroke="none"/>
<circle cx="1205.7" cy="661.3" r="2.9" fill="#000" stroke="none"/>
<circle cx="1253.5" cy="653.3" r="2.9" fill="#000" stroke="none"/>
<circle cx="1301.4" cy="645.4" r="2.9" fill="#000" stroke="none"/>
<circle cx="1349.2" cy="637.4" r="2.9" fill="#000" stroke="none"/>
<circle cx="1397" cy="629.4" r="2.9" fill="#000" stroke="none"/>
<circle cx="1444.9" cy="621.4" r="2.9" fill="#000" stroke="none"/>
<circle cx="1492.7" cy="613.4" r="2.9" fill="#000" stroke="none"/>
<circle cx="1540.5" cy="605.4" r="2.9" fill="#000" stroke="none"/>
<circle cx="1588.4" cy="597.4" r="2.9" fill="#000" stroke="none"/>
<path transform="translate(1011.7 642) rotate(-9.7)" d="M-22 -2.5 H22 M-15 -7.1 H15 M-8 -11.7 H8 M0 -11.7 V-22.7 M-3 -22.7 H3" stroke-width="2.3"/>
<path transform="translate(1086.7 629) rotate(-9.7)" d="M-22 -2.5 H22 M-15 -7.1 H15 M-8 -11.7 H8 M0 -11.7 V-22.7 M-3 -22.7 H3" stroke-width="2.3"/>
<path transform="translate(1165 615.4) rotate(-9.7)" d="M-22 -2.5 H22 M-15 -7.1 H15 M-8 -11.7 H8 M0 -11.7 V-22.7 M-3 -22.7 H3" stroke-width="2.3"/>
<path transform="translate(1243.3 601.8) rotate(-9.7)" d="M-22 -2.5 H22 M-15 -7.1 H15 M-8 -11.7 H8 M0 -11.7 V-22.7 M-3 -22.7 H3" stroke-width="2.3"/>
<path transform="translate(1316 589.2) rotate(-9.7)" d="M-22 -2.5 H22 M-15 -7.1 H15 M-8 -11.7 H8 M0 -11.7 V-22.7 M-3 -22.7 H3" stroke-width="2.3"/>
<path transform="translate(1396.7 575.2) rotate(-9.7)" d="M-22 -2.5 H22 M-15 -7.1 H15 M-8 -11.7 H8 M0 -11.7 V-22.7 M-3 -22.7 H3" stroke-width="2.3"/>
<path transform="translate(1471 562.3) rotate(-9.7)" d="M-22 -2.5 H22 M-15 -7.1 H15 M-8 -11.7 H8 M0 -11.7 V-22.7 M-3 -22.7 H3" stroke-width="2.3"/>
<path transform="translate(1528.3 552.4) rotate(-9.7)" d="M-22 -2.5 H22 M-15 -7.1 H15 M-8 -11.7 H8 M0 -11.7 V-22.7 M-3 -22.7 H3" stroke-width="2.3"/>
<path transform="translate(1966.3 477.5) rotate(-9.7)" d="M-22 -2.5 H22 M-15 -7.1 H15 M-8 -11.7 H8 M0 -11.7 V-22.7 M-3 -22.7 H3" stroke-width="2.3"/>
<path transform="translate(2027.3 467.1) rotate(-9.7)" d="M-22 -2.5 H22 M-15 -7.1 H15 M-8 -11.7 H8 M0 -11.7 V-22.7 M-3 -22.7 H3" stroke-width="2.3"/>
<path transform="translate(2099 454.8) rotate(-9.7)" d="M-22 -2.5 H22 M-15 -7.1 H15 M-8 -11.7 H8 M0 -11.7 V-22.7 M-3 -22.7 H3" stroke-width="2.3"/>
<path transform="translate(1894.7 489.7) rotate(-9.7)" d="M-29 -2.5 H29 M-22 -7.1 H22 M-15 -11.7 H15 M-8 -16.3 H8 M0 -16.3 V-36.3 M-3 -36.3 H3" stroke-width="2.3"/>
<path d="M2368 458.3 L2468 466.7 L2528 491 L2568 520 L2598 528.7" stroke-width="3.2"/>
<circle cx="2386.3" cy="461" r="3.4" fill="#000" stroke="none"/>
<circle cx="2434.7" cy="464" r="3.4" fill="#000" stroke="none"/>
<circle cx="2483" cy="472.3" r="3.4" fill="#000" stroke="none"/>
<circle cx="2527.3" cy="496.7" r="3.4" fill="#000" stroke="none"/>
<circle cx="2572" cy="522.3" r="3.4" fill="#000" stroke="none"/>
<circle cx="2596.3" cy="528.7" r="3.4" fill="#000" stroke="none"/>
<path d="M2464.7 460.7 C2473.6 462.5 2502.4 467.9 2518 471.7 C2533.6 475.4 2548.3 479.4 2558 483.3 C2567.7 487.2 2569.9 488.9 2576.3 495 C2582.7 501.1 2593 515.8 2596.3 520" stroke-width="2.8"/>
<path d="M2368 484.3 L2464.7 495 L2511.3 520 L2556.3 546.7 L2584.7 561.3 L2613 553.3" stroke-width="3.2"/>
<circle cx="2383" cy="485.7" r="3.4" fill="#000" stroke="none"/>
<circle cx="2431.3" cy="490" r="3.4" fill="#000" stroke="none"/>
<circle cx="2474" cy="499.3" r="3.4" fill="#000" stroke="none"/>
<circle cx="2512" cy="520.7" r="3.4" fill="#000" stroke="none"/>
<circle cx="2556.3" cy="546.7" r="3.4" fill="#000" stroke="none"/>
<circle cx="2610.7" cy="554" r="3.4" fill="#000" stroke="none"/>
<path d="M2576.3 458.3 L2616.3 510" stroke-width="2.8"/>
<path d="M2601.3 480 L2623 506.7 L2634.7 520" stroke-width="2.8"/>
<path d="M2623 550 L2664.7 605" stroke-width="3.4"/>
<path d="M2651.3 543.3 L2701.3 605" stroke-width="2.8"/>
<path d="M2647.3 547.3 L2696.3 605" stroke-width="2.8"/>
<path d="M2614.7 503.3 L2679.7 590" stroke-width="2.8" stroke-dasharray="24 6"/>
<circle cx="2626.3" cy="525.3" r="3.8" fill="#000" stroke="none"/>
<circle cx="2684.7" cy="596" r="3.8" fill="#000" stroke="none"/>
<path d="M2606.3 523.3 L2631.3 517.3 L2651.3 543.3 L2623 550 L2606.3 523.3" stroke-width="2.8"/>
<path d="M2631.3 517.3 L2634.7 508.3" stroke-width="2.8"/>
<path d="M2623 550 L2621.3 559.3" stroke-width="2.8"/>
<path d="M2651.3 543.3 L2658 542.3" stroke-width="2.8"/>
<path d="M2606.3 523.3 L2596.3 520" stroke-width="2.8"/>
<g transform="translate(2598.7 480) rotate(8)"><path d="M-18 0 H18" stroke-width="2.4"/><circle r="7" stroke-width="2.4" fill="#fff"/></g>
<path d="M2606.3 471.7 L2613 475" stroke-width="2.8"/>
<path d="M2608 481 L2618 481.7" stroke-width="2.8"/>
<path d="M2620.3 491 L2627 500 L2647.3 489.3" stroke-width="3.4"/>
<path d="M2642 471.7 L2659.7 496 L2692 476.7" stroke-width="3.4"/>
<path transform="translate(2723 489) scale(1)" d="M-15 -12 C-13 2 -9 9 -5 10 L-2 8 L0 11 L3 8 L6 10 C10 8 14 0 14 -13" stroke-width="2.8"/>
<path transform="translate(2898.7 472.7) scale(1)" d="M-15 -12 C-13 2 -9 9 -5 10 L-2 8 L0 11 L3 8 L6 10 C10 8 14 0 14 -13" stroke-width="2.8"/>
<path transform="translate(2422 539.3) scale(1)" d="M-15 -12 C-13 2 -9 9 -5 10 L-2 8 L0 11 L3 8 L6 10 C10 8 14 0 14 -13" stroke-width="2.8"/>
<path transform="translate(2723 576) scale(1)" d="M-15 -12 C-13 2 -9 9 -5 10 L-2 8 L0 11 L3 8 L6 10 C10 8 14 0 14 -13" stroke-width="2.8"/>
<path d="M2641.3 515 L2798 498.3" stroke-width="3.2"/>
<path d="M2661.3 542.3 L2798 528.3" stroke-width="3.2"/>
<circle cx="2666.3" cy="512.7" r="3.4" fill="#000" stroke="none"/>
<circle cx="2718" cy="507.3" r="3.4" fill="#000" stroke="none"/>
<circle cx="2766.3" cy="502.3" r="3.4" fill="#000" stroke="none"/>
<circle cx="2669.7" cy="540.7" r="3.4" fill="#000" stroke="none"/>
<circle cx="2721.3" cy="535.7" r="3.4" fill="#000" stroke="none"/>
<circle cx="2768" cy="530.7" r="3.4" fill="#000" stroke="none"/>
<path d="M2796.3 491.7 L2804.7 495 L2808 526.7 L2800.3 532.7" stroke-width="3.5"/>
<path d="M2847 489 L2836.3 491.7 L2839.7 523.3 L2847 526" stroke-width="3.5"/>
<path d="M2804.7 495 L2836.3 491.7" stroke-width="2.8"/>
<path d="M2808 526.7 L2839.7 523.3" stroke-width="2.8"/>
<path d="M2824.7 470 L2838 486.7 L2873 468.3" stroke-width="3.4"/>
<path d="M2838 486.7 L2838 491.7" stroke-width="3.4"/>
<path d="M2846.3 491.7 L3051.3 468.3 L3199.3 412.3 L3422.5 295.8" stroke-width="3.2"/>
<path d="M2848 521 L3044.7 499.3 L3118 480 L3135 473 L3213 431.7 L3430 319" stroke-width="3.2"/>
<circle cx="2856.3" cy="491" r="3.4" fill="#000" stroke="none"/>
<circle cx="2901.3" cy="486" r="3.4" fill="#000" stroke="none"/>
<circle cx="2948" cy="480.7" r="3.4" fill="#000" stroke="none"/>
<circle cx="2998" cy="474.3" r="3.4" fill="#000" stroke="none"/>
<circle cx="3048" cy="469" r="3.4" fill="#000" stroke="none"/>
<circle cx="2856.3" cy="520" r="3.4" fill="#000" stroke="none"/>
<circle cx="2903" cy="515" r="3.4" fill="#000" stroke="none"/>
<circle cx="2949.7" cy="510" r="3.4" fill="#000" stroke="none"/>
<circle cx="2999.7" cy="504.3" r="3.4" fill="#000" stroke="none"/>
<circle cx="3051.3" cy="498.3" r="3.4" fill="#000" stroke="none"/>
<circle cx="3103" cy="485" r="3.4" fill="#000" stroke="none"/>
<path d="M3063 515 L3099.7 471.7" stroke-width="2.8"/>
<text x="2978.7" y="336.7" font-size="34" letter-spacing="3.4">55.303</text>
<text x="2980" y="299" font-size="29" style="font-family:'Liberation Sans','Noto Sans CJK JP',sans-serif">美水ー</text>
<text x="3070" y="300" font-size="30">7</text>
<path d="M2942 305 L3126 305 L3359 640" stroke-width="2.8"/>
<path d="M2768 605 L2779.7 571.7 L2813 579.3 L2822 546 L2883 565 L2874 605" stroke-width="3.8"/>
<path d="M2964.7 605 L2999 561.7 L2949.7 520 L2894.7 585 L2918 605" stroke-width="3.8"/>
<path d="M2368 556.7 L2388.7 605" stroke-width="3.4"/>
<path d="M2403 605 L2528 538.3 L2565.3 605" stroke-width="3.5"/>
<path d="M3044.7 499.3 C3045.3 502.2 3049.8 510.4 3048.7 516.7 C3047.6 522.9 3045.9 527.2 3038 536.7 C3030.1 546.1 3013.6 561.9 3001.3 573.3 C2989.1 584.7 2970.8 599.7 2964.7 605" stroke-width="3.4"/>
<path d="M3051.3 506.7 L3053 523.3 L3043 543.3 L3008 580 L2978 605" stroke-width="3.2" stroke-dasharray="0.1 7" stroke-linecap="round"/>
<circle cx="3051.3" cy="529.3" r="3.8" fill="#000" stroke="none"/>
<text x="3184" y="535.3" font-size="24.5" letter-spacing="2.2">54.</text>
<path d="M3123.6 451 L3193.5 422" stroke-width="2.8"/>
<path d="M3226.5 409.4 L3290.5 378.3" stroke-width="2.8"/>
<path d="M3333 354 L3381.8 328.8" stroke-width="2.8"/>
<path d="M3407 313.3 L3424.5 305.5" stroke-width="2.8"/>
<circle cx="3111" cy="458" r="4.5" fill="#000" stroke="none"/>
<circle cx="3210" cy="416" r="4.5" fill="#000" stroke="none"/>
<circle cx="3309" cy="366.7" r="4.5" fill="#000" stroke="none"/>
<circle cx="3393.4" cy="321" r="4.5" fill="#000" stroke="none"/>
<circle cx="3090.6" cy="455" r="3.4" fill="#000" stroke="none"/>
<circle cx="3135.3" cy="438.5" r="3.4" fill="#000" stroke="none"/>
<circle cx="3178" cy="422" r="3.4" fill="#000" stroke="none"/>
<circle cx="3218.7" cy="405.5" r="3.4" fill="#000" stroke="none"/>
<circle cx="3261.5" cy="383" r="3.4" fill="#000" stroke="none"/>
<circle cx="3302" cy="361" r="3.4" fill="#000" stroke="none"/>
<circle cx="3345" cy="339.5" r="3.4" fill="#000" stroke="none"/>
<circle cx="3380" cy="320" r="3.4" fill="#000" stroke="none"/>
<circle cx="3414.8" cy="301.6" r="3.4" fill="#000" stroke="none"/>
<circle cx="3149" cy="462.7" r="3.4" fill="#000" stroke="none"/>
<circle cx="3188.6" cy="444.3" r="3.4" fill="#000" stroke="none"/>
<circle cx="3228.4" cy="424" r="3.4" fill="#000" stroke="none"/>
<circle cx="3273" cy="400.6" r="3.4" fill="#000" stroke="none"/>
<circle cx="3315.8" cy="379.3" r="3.4" fill="#000" stroke="none"/>
<circle cx="3354.6" cy="357" r="3.4" fill="#000" stroke="none"/>
<circle cx="3395.4" cy="336.6" r="3.4" fill="#000" stroke="none"/>
<circle cx="3426.4" cy="320.7" r="3.4" fill="#000" stroke="none"/>
<path d="M3352.7 366.7 L3453 598" stroke-width="3.7" stroke-dasharray="0.1 14.8" stroke-linecap="round"/>
<path d="M3531 310 L3551 297.5 L3586 357.5 L3563.5 372.5 Z" stroke-width="3.8"/>
<path d="M3601 302.5 L3643.5 279 L3663.5 316 L3618.5 341 Z" stroke-width="3.8"/>
<path d="M3519.7 306 L3560.3 375 L3627 486.7 L3648.7 528.3" stroke-width="3.9" stroke-dasharray="0.1 14.5" stroke-linecap="round"/>
<path d="M3693.7 310.7 L3653.7 335 L3656 343.3 L3650.3 346.7 L3578.7 389.3 L3632 488.3 L3713.7 441.7" stroke-width="3.5"/>
<path d="M3690 285 L3719.5 480 L3748.5 662.8" stroke-width="2.8"/>
<path d="M3622.6 568 L3724 506.3" stroke-width="2.8"/>
<path d="M3614.8 546.9 L3670.5 649.4" stroke-width="2.8"/>
<path d="M3644.9 532.4 L3651.5 527.9 L3688.3 595.9 L3714 633.8 L3740.7 630.4" stroke-width="2.8"/>
<path d="M3644.9 532.4 L3680.5 599.2" stroke-width="2.8" stroke-dasharray="20 6"/>
<path d="M3680.5 599.2 L3688.3 595.9" stroke-width="2.8"/>
<path d="M3688.3 595.9 L3732.9 570.3" stroke-width="2.8"/>
<path d="M3484.3 444 L3495.3 456 L3507.3 442" stroke-width="2.8"/>
<circle cx="3466.3" cy="480" r="2.5" fill="#000" stroke="none"/>
<text x="3476.3" y="490" font-size="24.5" letter-spacing="2.2">54.6</text>
<text x="3226" y="535.3" font-size="24.5" letter-spacing="2.2">6</text>
<path d="M680 681.3 L700 681.3 L761.7 638.3 L946.7 640 L1043.3 663.3 L1096.7 681.3 L1150 690 L1265 695.5 L1722.8 723.8" stroke-width="2.8"/>
<path d="M683.3 686.3 L703.3 686.3 L764 644.7 L946.7 646 L1043.3 669.3 L1096.7 687.3 L1150 696 L1255 703.8 L1722.8 728" stroke-width="2.8" stroke-dasharray="22 7"/>
<path d="M681.7 710 L691.7 709 L760 670 L933.3 670 L1016.7 687.3 L1083.3 701.7" stroke-width="2.8"/>
<g transform="translate(1090.7 697.3)"><circle r="7.5" stroke-width="2.4" fill="#fff"/><path d="M-7.5 0 A7.5 7.5 0 0 0 7.5 0 Z" fill="#000" stroke="none"/></g>
<path d="M1096.7 705.7 L1230 713.8 L1722.8 741.2" stroke-width="4.2"/>
<path d="M683.3 793 L763.3 790.7" stroke-width="2.8"/>
<g transform="translate(773.3 796.3)"><circle r="7.5" stroke-width="2.4" fill="#fff"/><path d="M-7.5 0 A7.5 7.5 0 0 0 7.5 0 Z" fill="#000" stroke="none"/></g>
<path d="M783.3 793 L916.7 822.3 L1076.7 830.7 L1230 793.8" stroke-width="2.8"/>
<path d="M1230 793.8 L1722.8 823.8" stroke-width="4.2"/>
<path d="M685 822.3 L763.3 819 L775 822.3 L916.7 850.7 L1080 862.3 L1220 825 L1722.8 855" stroke-width="3.4"/>
<path d="M1140 840 L1220 820 L1722.8 850" stroke-width="2.8" stroke-dasharray="22 7"/>
<path d="M1140 840 L1141.2 843.8" stroke-width="2.8"/>
<circle cx="1121.2" cy="856.2" r="2.7" fill="#000" stroke="none"/>
<circle cx="1251.2" cy="832.5" r="2.7" fill="#000" stroke="none"/>
<circle cx="1411.2" cy="840" r="2.7" fill="#000" stroke="none"/>
<circle cx="1586.2" cy="851.2" r="2.7" fill="#000" stroke="none"/>
<path d="M681.7 748 L973.3 749.7" stroke-width="2.8"/>
<path d="M986.7 750.7 L993.3 751" stroke-width="2.8"/>
<path d="M1006.7 751.7 L1315 765" stroke-width="2.8"/>
<path d="M1325 765.5 L1332.5 765.8" stroke-width="2.8"/>
<path d="M1342.5 766.2 L1680 782" stroke-width="2.8"/>
<path d="M1690 782.5 L1697.5 782.8" stroke-width="2.8"/>
<path d="M1707.5 783.2 L1722.8 784" stroke-width="2.8"/>
<g transform="translate(1236.2 708.2) rotate(3.2)"><rect x="-10.5" y="-7" width="21" height="14" stroke-width="2.4" fill="#fff"/><circle r="4.5" stroke-width="2.4" fill="none"/></g>
<g transform="translate(1355.8 714.2) rotate(3.2)"><rect x="-10.5" y="-7" width="21" height="14" stroke-width="2.4" fill="#fff"/><circle r="4.5" stroke-width="2.4" fill="none"/></g>
<g transform="translate(1477.5 721) rotate(3.2)"><rect x="-10.5" y="-7" width="21" height="14" stroke-width="2.4" fill="#fff"/><circle r="4.5" stroke-width="2.4" fill="none"/></g>
<g transform="translate(1598.2 726.8) rotate(3.2)"><rect x="-10.5" y="-7" width="21" height="14" stroke-width="2.4" fill="#fff"/><circle r="4.5" stroke-width="2.4" fill="none"/></g>
<g transform="translate(1156.2 818.8) rotate(-13)"><rect x="-10.5" y="-7" width="21" height="14" stroke-width="2.4" fill="#fff"/><circle r="4.5" stroke-width="2.4" fill="none"/></g>
<g transform="translate(1263.8 803) rotate(3.5)"><rect x="-10.5" y="-7" width="21" height="14" stroke-width="2.4" fill="#fff"/><circle r="4.5" stroke-width="2.4" fill="none"/></g>
<g transform="translate(1380.8 810.8) rotate(3.5)"><rect x="-10.5" y="-7" width="21" height="14" stroke-width="2.4" fill="#fff"/><circle r="4.5" stroke-width="2.4" fill="none"/></g>
<g transform="translate(1500.8 819) rotate(3.5)"><rect x="-10.5" y="-7" width="21" height="14" stroke-width="2.4" fill="#fff"/><circle r="4.5" stroke-width="2.4" fill="none"/></g>
<g transform="translate(1616.2 826.2) rotate(3.5)"><rect x="-10.5" y="-7" width="21" height="14" stroke-width="2.4" fill="#fff"/><circle r="4.5" stroke-width="2.4" fill="none"/></g>
<path d="M696.7 720 L699.3 782.3" stroke-width="2.8"/>
<path d="M696.7 720 L700.6 737.8 L697.4 738 Z" fill="#000" stroke-width="0.8"/>
<path d="M699.3 782.3 L695.4 764.5 L698.6 764.3 Z" fill="#000" stroke-width="0.8"/>
<path d="M771.7 709 L770.7 780.7" stroke-width="2.8"/>
<path d="M771.7 709 L774.6 727 L771.4 727 Z" fill="#000" stroke-width="0.8"/>
<path d="M770.7 780.7 L767.7 762.6 L770.9 762.7 Z" fill="#000" stroke-width="0.8"/>
<path d="M938.3 704 L933.3 796.7" stroke-width="2.8"/>
<path d="M938.3 704 L940.6 722.1 L937.4 722 Z" fill="#000" stroke-width="0.8"/>
<path d="M933.3 796.7 L931.1 778.5 L934.3 778.7 Z" fill="#000" stroke-width="0.8"/>
<path d="M1089.3 719 L1086 798" stroke-width="2.8"/>
<path d="M1089.3 719 L1091.8 737.1 L1088.6 737 Z" fill="#000" stroke-width="0.8"/>
<path d="M1086 798 L1083.6 779.9 L1086.8 780 Z" fill="#000" stroke-width="0.8"/>
<path d="M1229.5 725 L1223.8 788.8" stroke-width="2.8"/>
<path d="M1229.5 725 L1231.1 743.2 L1227.9 742.9 Z" fill="#000" stroke-width="0.8"/>
<path d="M1223.8 788.8 L1222.2 770.5 L1225.4 770.8 Z" fill="#000" stroke-width="0.8"/>
<text x="0" y="0" font-size="30" letter-spacing="4" transform="translate(1217 782.5) rotate(-83) scale(1 1)">6.0</text>
<text x="820.7" y="732.3" font-size="32" letter-spacing="3">As</text>
<path d="M1045 664 L770 822.3 L691.2 929.3" stroke-width="3.2"/>
<path d="M1096.7 682.3 L810 835.7 L740.8 919" stroke-width="3.4"/>
<path d="M675 610.7 L686.7 637.3 L705 669" stroke-width="2.8" stroke-dasharray="30 8"/>
<path d="M906.7 607.3 L920 632.3" stroke-width="2.8"/>
<path transform="translate(687.3 666.3) rotate(0)" d="M-2 -5 V5 M2 -5 V5" stroke-width="2.2"/>
<text x="727.3" y="842.3" font-size="23" style="stroke:#000;stroke-width:0.8px;stroke-linejoin:round">P</text>
<circle cx="743.3" cy="849" r="2.9" fill="#000" stroke="none"/>
<circle cx="711.7" cy="824" r="1.7" fill="#000" stroke="none"/>
<clipPath id="tri"><polygon points="685.6,822.3 774.7,822.3 691.2,929.3"/></clipPath>
<g clip-path="url(#tri)"><path d="M680 930 l110 110 M686 917 l110 110 M680 892 l110 110 M686 879 l110 110 M680 854 l110 110 M686 841 l110 110 M680 816 l110 110 M686 803 l110 110 M680 778 l110 110 M686 765 l110 110 M680 740 l110 110 M686 727 l110 110 " stroke-width="2.8" stroke-dasharray="13 7"/></g>
<path d="M750 822.3 L768.3 837.3" stroke-width="2.8"/>
<path d="M756 820 L767.3 829" stroke-width="2.8"/>
<path d="M686.7 840.7 L730 845.7" stroke-width="2.8"/>
<path transform="translate(698.7 841.3) rotate(8)" d="M-2 -4.5 V4.5 M2 -4.5 V4.5" stroke-width="2.2"/>
<path transform="translate(692.7 870) rotate(0)" d="M-1.5 -4 V4 M1.5 -4 V4" stroke-width="2.2"/>
<circle cx="772.3" cy="831.3" r="3.1" fill="#000" stroke="none"/>
<circle cx="800.7" cy="841.3" r="3.1" fill="#000" stroke="none"/>
<circle cx="746.7" cy="862.3" r="3.1" fill="#000" stroke="none"/>
<circle cx="768.3" cy="881.3" r="3.1" fill="#000" stroke="none"/>
<circle cx="715" cy="900" r="3.1" fill="#000" stroke="none"/>
<circle cx="846.7" cy="860.7" r="3.1" fill="#000" stroke="none"/>
<circle cx="866" cy="846.7" r="3.1" fill="#000" stroke="none"/>
<circle cx="918.7" cy="860" r="3.1" fill="#000" stroke="none"/>
<circle cx="996.7" cy="861.3" r="3.1" fill="#000" stroke="none"/>
<circle cx="1120.7" cy="856.7" r="3.1" fill="#000" stroke="none"/>
<circle cx="846.7" cy="860.7" r="4" fill="#000" stroke="none"/>
<circle cx="954.3" cy="874.7" r="4" fill="#000" stroke="none"/>
<circle cx="1050" cy="886.7" r="4" fill="#000" stroke="none"/>
<circle cx="1033.3" cy="888.3" r="2.9" fill="#000" stroke="none"/>
<circle cx="1136.7" cy="896" r="4" fill="#000" stroke="none"/>
<circle cx="1154" cy="907.3" r="2.9" fill="#000" stroke="none"/>
<path d="M763.3 850.7 L823.3 859" stroke-width="2.8"/>
<path d="M870 864 L943.3 872.3" stroke-width="2.8"/>
<path d="M971.7 876.7 L1033.3 884" stroke-width="2.8"/>
<path d="M1070 888.3 L1121.7 895.7" stroke-width="2.8"/>
<path d="M1153.3 899 L1165 900.7 L1186.7 919" stroke-width="2.8"/>
<path d="M943.3 855.7 L931.7 919" stroke-width="2.8" stroke-dasharray="40 10"/>
<path d="M846.7 839 L831.7 865.7" stroke-width="2.8" stroke-dasharray="30 8"/>
<path d="M823.3 870.7 L793.3 919" stroke-width="2.8" stroke-dasharray="30 8"/>
<path d="M796.7 837.3 L786.7 857.3" stroke-width="2.5"/>
<path d="M801.3 838.7 L791.3 858.7" stroke-width="2.5"/>
<path d="M806 840 L796 860" stroke-width="2.5"/>
<path d="M810.7 841.3 L800.7 861.3" stroke-width="2.5"/>
<path d="M806.7 857.3 L823.3 870.7" stroke-width="2.8"/>
<path d="M760 905.7 L750 919" stroke-width="2.5"/>
<path d="M764 905.7 L754 919" stroke-width="2.5"/>
<path d="M768 905.7 L758 919" stroke-width="2.5"/>
<circle cx="1056" cy="870.7" r="1.7" fill="#000" stroke="none"/>
<circle cx="1054" cy="875.7" r="1.7" fill="#000" stroke="none"/>
<text x="886" y="890.7" font-size="24.5" letter-spacing="2" style="stroke:#000;stroke-width:0.8px;stroke-linejoin:round">54.8</text>
<text x="992.7" y="912.3" font-size="24.5" letter-spacing="2" style="stroke:#000;stroke-width:0.8px;stroke-linejoin:round">54.8</text>
<text x="1066.7" y="883.3" font-size="23" style="stroke:#000;stroke-width:0.8px;stroke-linejoin:round">P</text>
<path d="M865 899.3 L876 911.3 L888 897.3" stroke-width="2.8"/>
<path transform="translate(1175 883.3) rotate(3)" d="M-5 -13 V13 M5 -13 V13" stroke-width="2.8"/>
<path transform="translate(1481.7 905.7) rotate(0)" d="M-5 -12 V12 M5 -12 V12" stroke-width="2.8"/>
<path d="M1357.5 852.5 L1225 915.5" stroke-width="2.8" stroke-dasharray="40 10"/>
<path d="M1373.8 837.5 C1374.6 839.6 1376.5 845.4 1378.8 850 C1381 854.6 1385 859.2 1387.5 865 C1390 870.8 1391.2 879.2 1393.8 885 C1396.2 890.8 1399.8 894.8 1402.5 900 C1405.2 905.2 1408.8 913.5 1410 916.2" stroke-width="3.4"/>
<path d="M1351.2 846.2 L1370 840" stroke-width="2.5"/>
<path d="M1357.5 858.8 L1378.8 851.2" stroke-width="2.5"/>
<path d="M1363.8 875 L1387.5 867.5" stroke-width="2.5"/>
<path d="M1371.2 891.2 L1395 882.5" stroke-width="2.5"/>
<path d="M1378.8 908.8 L1402.5 901.2" stroke-width="2.5"/>
<path transform="translate(1176.7 669.2) rotate(-9.5)" d="M-17.6 0 H17.6 M-12 3.4 H12 M-6.4 6.9 H6.4 M0 6.9 V10.9 M-4 10.9 H4" stroke-width="2.3"/>
<path transform="translate(1265 654.4) rotate(-9.5)" d="M-22 0 H22 M-15 4.3 H15 M-8 8.6 H8 M0 8.6 V25.6 M-4 25.6 H4" stroke-width="2.3"/>
<path transform="translate(1337 642.4) rotate(-9.5)" d="M-22 0 H22 M-15 4.3 H15 M-8 8.6 H8 M0 8.6 V30.6 M-4 30.6 H4" stroke-width="2.3"/>
<path transform="translate(1417 629.1) rotate(-9.5)" d="M-22 0 H22 M-15 4.3 H15 M-8 8.6 H8 M0 8.6 V30.6 M-4 30.6 H4" stroke-width="2.3"/>
<path transform="translate(1494 616.2) rotate(-9.5)" d="M-22 0 H22 M-15 4.3 H15 M-8 8.6 H8 M0 8.6 V30.6 M-4 30.6 H4" stroke-width="2.3"/>
<path transform="translate(1553 606.4) rotate(-9.5)" d="M-22 0 H22 M-15 4.3 H15 M-8 8.6 H8 M0 8.6 V30.6 M-4 30.6 H4" stroke-width="2.3"/>
<path d="M1273 694 L1578 636" stroke-width="3.1" stroke-dasharray="40 10"/>
<path d="M1722.8 723.8 L2029 733.3 L2042.3 735.3 L2367.7 736.7" stroke-width="2.8"/>
<path d="M1722.8 728 L2029 739 L2055.7 741 L2367.7 742.3" stroke-width="2.8" stroke-dasharray="22 7"/>
<path d="M1722.8 741.2 C1742.7 742.3 1800.2 745.2 1842.3 747.3 C1884.5 749.5 1931.2 752.2 1975.7 754 C2020.1 755.8 2061.8 757 2109 758 C2156.2 759 2229 759.7 2259 760 C2289 760.3 2284 760 2289 760" stroke-width="4.2"/>
<path d="M2289 760 C2292.3 759.1 2302.9 758.4 2309 754.7 C2315.1 750.9 2320.1 744.7 2325.7 737.3 C2331.2 730 2336.1 720.9 2342.3 710.7 C2348.6 700.4 2359.6 681.5 2363 675.7" stroke-width="3.8"/>
<path d="M2363 675.7 L2342.3 637.3 L2322.3 604" stroke-width="3.2"/>
<circle cx="2342.3" cy="637.3" r="3.4" fill="#000" stroke="none"/>
<circle cx="2358.3" cy="681.3" r="3.4" fill="#000" stroke="none"/>
<circle cx="2337.3" cy="714" r="3.4" fill="#000" stroke="none"/>
<g transform="translate(1598.3 727.3) rotate(2.5)"><rect x="-10.5" y="-7" width="21" height="14" stroke-width="2.4" fill="#fff"/><circle r="4.5" stroke-width="2.4" fill="none"/></g>
<g transform="translate(1842.3 741) rotate(2.5)"><rect x="-10.5" y="-7" width="21" height="14" stroke-width="2.4" fill="#fff"/><circle r="4.5" stroke-width="2.4" fill="none"/></g>
<g transform="translate(1987.3 748) rotate(2.5)"><rect x="-10.5" y="-7" width="21" height="14" stroke-width="2.4" fill="#fff"/><circle r="4.5" stroke-width="2.4" fill="none"/></g>
<g transform="translate(2106.7 751) rotate(2.5)"><rect x="-10.5" y="-7" width="21" height="14" stroke-width="2.4" fill="#fff"/><circle r="4.5" stroke-width="2.4" fill="none"/></g>
<g transform="translate(2225 754) rotate(2.5)"><rect x="-10.5" y="-7" width="21" height="14" stroke-width="2.4" fill="#fff"/><circle r="4.5" stroke-width="2.4" fill="none"/></g>
<path d="M1854 747.3 L1854 733.3 L1904 735" stroke-width="2.8"/>
<circle cx="1905" cy="740.7" r="2.5" fill="#000" stroke="none"/>
<circle cx="2041.3" cy="769" r="1.8" fill="#000" stroke="none"/>
<path d="M1707.5 783.2 L1682.3 784" stroke-width="2.8"/>
<path d="M1695.7 784.7 L1705.7 785" stroke-width="2.8"/>
<path d="M1717.3 785.7 L2022.3 796.7" stroke-width="2.8"/>
<path d="M2034 797.3 L2042.3 797.3" stroke-width="2.8"/>
<path d="M2052.3 797.3 L2367.7 797.3" stroke-width="2.8"/>
<path d="M1792.3 777.3 L1792.3 799" stroke-width="3.4"/>
<text x="1785" y="772.3" font-size="30">2</text>
<text x="1871.7" y="713.3" font-size="32" letter-spacing="3">As</text>
<text x="1896.7" y="825" font-size="32" letter-spacing="3">As</text>
<path d="M1722.8 823.8 C1726 824.3 1700.2 825.1 1742.3 827.3 C1784.5 829.6 1892.3 835.1 1975.7 837.3 C2059 839.6 2177 840 2242.3 840.7 C2307.7 841.3 2346.8 841.2 2367.7 841.3" stroke-width="4.2"/>
<g transform="translate(1617.3 826.7) rotate(2)"><rect x="-10.5" y="-7" width="21" height="14" stroke-width="2.4" fill="#fff"/><circle r="4.5" stroke-width="2.4" fill="none"/></g>
<g transform="translate(1733 834) rotate(2)"><rect x="-10.5" y="-7" width="21" height="14" stroke-width="2.4" fill="#fff"/><circle r="4.5" stroke-width="2.4" fill="none"/></g>
<g transform="translate(1854 840.7) rotate(2)"><rect x="-10.5" y="-7" width="21" height="14" stroke-width="2.4" fill="#fff"/><circle r="4.5" stroke-width="2.4" fill="none"/></g>
<g transform="translate(1970.7 844.7) rotate(2)"><rect x="-10.5" y="-7" width="21" height="14" stroke-width="2.4" fill="#fff"/><circle r="4.5" stroke-width="2.4" fill="none"/></g>
<g transform="translate(2087.3 848) rotate(2)"><rect x="-10.5" y="-7" width="21" height="14" stroke-width="2.4" fill="#fff"/><circle r="4.5" stroke-width="2.4" fill="none"/></g>
<g transform="translate(2205.7 850.7) rotate(2)"><rect x="-10.5" y="-7" width="21" height="14" stroke-width="2.4" fill="#fff"/><circle r="4.5" stroke-width="2.4" fill="none"/></g>
<g transform="translate(2329 850.7) rotate(2)"><rect x="-10.5" y="-7" width="21" height="14" stroke-width="2.4" fill="#fff"/><circle r="4.5" stroke-width="2.4" fill="none"/></g>
<path d="M1722.8 850 C1731.6 850.4 1728 850 1775.7 852.3 C1823.4 854.7 1931.2 861.2 2009 864 C2086.8 866.8 2182.6 868.2 2242.3 869 C2302.1 869.8 2346.8 869 2367.7 869" stroke-width="2.8" stroke-dasharray="22 7"/>
<path d="M1722.8 855 C1731.6 855.7 1728 856.6 1775.7 859 C1823.4 861.4 1931.2 867.2 2009 869.7 C2086.8 872.2 2182.6 873.4 2242.3 874 C2302.1 874.6 2346.8 873.4 2367.7 873.3" stroke-width="3.4"/>
<circle cx="1587.3" cy="851.3" r="2.9" fill="#000" stroke="none"/>
<circle cx="1764" cy="861.3" r="2.9" fill="#000" stroke="none"/>
<circle cx="1919.7" cy="850" r="2.9" fill="#000" stroke="none"/>
<circle cx="1919" cy="870.7" r="2.9" fill="#000" stroke="none"/>
<circle cx="2050.7" cy="877.3" r="2.9" fill="#000" stroke="none"/>
<circle cx="2192.3" cy="879" r="2.9" fill="#000" stroke="none"/>
<circle cx="2229" cy="855.7" r="2.9" fill="#000" stroke="none"/>
<circle cx="2300.7" cy="880" r="2.9" fill="#000" stroke="none"/>
<path d="M1660.7 600.7 L1670.7 691.3 L1809 674 L1800.7 600.7" stroke-width="3.8"/>
<path d="M1604 600.7 C1604.8 607.9 1605.4 626.8 1609 644 C1612.6 661.2 1622.9 694 1625.7 704" stroke-width="3.1"/>
<path d="M1640.7 600.7 C1641.5 606.8 1642.9 624.8 1645.7 637.3 C1648.4 649.8 1655.4 669.3 1657.3 675.7" stroke-width="3.1"/>
<path d="M1577.3 604 A14.3 4.6 68.7 0 0 1587.7 630.6 M1587.7 630.6 A14.3 4.6 68.7 0 0 1598.1 657.3 M1598.1 657.3 A14.3 4.6 68.7 0 0 1608.6 683.9 M1608.6 683.9 A14.3 4.6 68.7 0 0 1619 710.6 " stroke-width="2.5"/>
<path d="M1577.3 604 L1619 710.7" stroke-width="2.8"/>
<path d="M1550.7 617.3 L1554 635.7" stroke-width="2.5"/>
<path d="M1545.7 618 L1555.7 616.7" stroke-width="2.5"/>
<path d="M1509 647.3 L1575.7 637.3" stroke-width="3.1" stroke-dasharray="40 10"/>
<path d="M1517.3 667.3 L1517.3 685.7" stroke-width="2.8"/>
<path d="M1507 664 L1507 686" stroke-width="2.8"/>
<path d="M1985.7 624 L2015.7 614" stroke-width="2.5"/>
<path d="M1994 642.3 L2022.3 632.3" stroke-width="2.5"/>
<path d="M2002.3 660.7 L2030.7 650.7" stroke-width="2.5"/>
<path d="M2010.7 679 L2039 669" stroke-width="2.5"/>
<path d="M2019 695.7 L2045.7 687.3" stroke-width="2.5"/>
<path d="M2027.3 710.7 L2052.3 704" stroke-width="2.5"/>
<path d="M2035.7 724 L2057.3 715.7" stroke-width="2.5"/>
<path d="M1979 608 L2007.3 599" stroke-width="2.5"/>
<path d="M2041.3 729 L2042.3 733.3 L2049.7 732.7 L2049 729" stroke-width="3.1"/>
<path d="M2111.7 642.3 v-29 M2103.7 642.3 v-9 M2119.7 642.3 v-10" stroke-width="2.8"/>
<circle cx="2133" cy="659" r="2.5" fill="#000" stroke="none"/>
<text x="2145" y="670" font-size="24.5" letter-spacing="2" style="stroke:#000;stroke-width:0.8px;stroke-linejoin:round">53.3</text>
<text x="2190" y="727.3" font-size="23" style="stroke:#000;stroke-width:0.8px;stroke-linejoin:round">P</text>
<circle cx="2240.7" cy="731.3" r="2.9" fill="#000" stroke="none"/>
<path d="M2199 604 L2264 704 L2265 730.7 L2260.7 759" stroke-width="3.2"/>
<path d="M2224 604 L2289 700.7 L2287.3 759" stroke-width="3.2"/>
<path d="M2257.3 770.7 L2247.3 867.3" stroke-width="3.1" stroke-dasharray="26 8"/>
<path d="M2284 770.7 L2272.3 867.3" stroke-width="3.1" stroke-dasharray="26 8"/>
<path d="M2247.3 867.3 C2247.9 870.1 2247.9 875.4 2250.7 884 C2253.4 892.6 2261.8 913.2 2264 919" stroke-width="3.2"/>
<path d="M2272.3 867.3 C2273.2 870.7 2272.1 878.7 2277.3 887.3 C2282.6 895.9 2299.6 913.7 2304 919" stroke-width="3.2"/>
<circle cx="2225.7" cy="642.3" r="3.4" fill="#000" stroke="none"/>
<circle cx="2267.3" cy="672.3" r="3.4" fill="#000" stroke="none"/>
<circle cx="2264" cy="727.3" r="3.4" fill="#000" stroke="none"/>
<circle cx="2240.7" cy="629" r="3.4" fill="#000" stroke="none"/>
<circle cx="2285.7" cy="729" r="3.4" fill="#000" stroke="none"/>
<circle cx="2270.7" cy="881.3" r="3.4" fill="#000" stroke="none"/>
<path d="M2278 615.3 L2289 627.3 L2301 613.3" stroke-width="2.8"/>
<path d="M2128.7 903.7 L2139.7 915.7 L2151.7 901.7" stroke-width="2.8"/>
<path d="M2295.7 772.3 L2292.3 825.7" stroke-width="2.8"/>
<path d="M2295.7 772.3 L2297.9 788.5 L2294.7 788.3 Z" fill="#000" stroke-width="0.8"/>
<path d="M2292.3 825.7 L2290.1 809.5 L2293.3 809.7 Z" fill="#000" stroke-width="0.8"/>
<text x="2341.7" y="895.7" font-size="23" style="stroke:#000;stroke-width:0.8px;stroke-linejoin:round">P</text>
<path d="M2022.3 870.7 L2055.7 919" stroke-width="2.8" stroke-dasharray="50 8 4 8"/>
<circle cx="1577.3" cy="882.3" r="2.5" fill="#000" stroke="none"/>
<text x="1585.7" y="893.3" font-size="24.5" letter-spacing="2" style="stroke:#000;stroke-width:0.8px;stroke-linejoin:round">54.4</text>
<path d="M1609 897.3 L1609 919" stroke-width="2.8"/>
<path d="M1615.7 897.3 L1615.7 919" stroke-width="2.8"/>
<path d="M1519 844 L1545.7 919" stroke-width="2.8" stroke-dasharray="40 10"/>
<path d="M1659 864 L1677.3 858" stroke-width="2.5"/>
<path d="M1665.7 875.7 L1684 869" stroke-width="2.5"/>
<path d="M1672.3 887.3 L1690.7 880" stroke-width="2.5"/>
<path d="M1677.3 900 L1695.7 892.7" stroke-width="2.5"/>
<path d="M1682.3 912.3 L1700.7 905" stroke-width="2.5"/>
<path d="M1729 860.7 L1754 919" stroke-width="3.7" stroke-dasharray="0.1 12" stroke-linecap="round"/>
<path d="M2280 882 Q2302 895 2308 930 Q2286 915 2280 882 M2286 896 L2302 918" stroke-width="1.8"/>
<path d="M2368 735.7 L2468 728.3" stroke-width="2.8" stroke-dasharray="22 7"/>
<path d="M2468 728.3 L2784.7 706.7 L3226.7 665.7" stroke-width="2.8"/>
<path d="M2368 742.3 L2768 714 L3226.7 672.3" stroke-width="2.8" stroke-dasharray="22 7"/>
<path d="M2486.3 735.7 C2487.4 737.9 2489.9 745.4 2493 749 C2496.1 752.6 2499.4 755.4 2504.7 757.3 C2509.9 759.3 2521.3 760.1 2524.7 760.7" stroke-width="3.8"/>
<path d="M2524.7 760.7 L2704.7 746.7" stroke-width="4.2"/>
<path d="M2718 745.7 C2724.7 745.1 2748.3 744 2758 742.3 C2767.7 740.7 2772.3 740.1 2776.3 735.7 C2780.4 731.2 2781.3 719 2782.3 715.7" stroke-width="3.8"/>
<path d="M2848 709 C2849.1 711.2 2851.9 718.8 2854.7 722.3 C2857.4 725.8 2860.8 728.3 2864.7 730 C2868.6 731.7 2875.8 731.9 2878 732.3" stroke-width="3.8"/>
<path d="M2878 732.3 L3106.3 710.7" stroke-width="4.2"/>
<path d="M3121.3 710 L3226.7 700" stroke-width="4.2"/>
<g transform="translate(2538 750) rotate(-5)"><rect x="-10.5" y="-7" width="21" height="14" stroke-width="2.4" fill="#fff"/><circle r="4.5" stroke-width="2.4" fill="none"/></g>
<g transform="translate(2717.3 737.3) rotate(-5)"><rect x="-10.5" y="-7" width="21" height="14" stroke-width="2.4" fill="#fff"/><circle r="4.5" stroke-width="2.4" fill="none"/></g>
<g transform="translate(3016.3 711.3) rotate(-5)"><rect x="-10.5" y="-7" width="21" height="14" stroke-width="2.4" fill="#fff"/><circle r="4.5" stroke-width="2.4" fill="none"/></g>
<g transform="translate(3095.7 703.3) rotate(-5)"><rect x="-10.5" y="-7" width="21" height="14" stroke-width="2.4" fill="#fff"/><circle r="4.5" stroke-width="2.4" fill="none"/></g>
<g transform="translate(3174.7 697.3) rotate(-5)"><rect x="-10.5" y="-7" width="21" height="14" stroke-width="2.4" fill="#fff"/><circle r="4.5" stroke-width="2.4" fill="none"/></g>
<path d="M2708 745.7 L2709.7 759.8" stroke-width="3.2"/>
<circle cx="2709.7" cy="766.3" r="6.5" stroke-width="3.2" fill="#fff"/>
<path d="M2709.7 759.8 L2709.7 772.8" stroke-width="3.8"/>
<path d="M3109.7 700.7 L3113 716.8" stroke-width="3.2"/>
<circle cx="3113" cy="723.3" r="6.5" stroke-width="3.2" fill="#fff"/>
<path d="M3113 716.8 L3113 729.8" stroke-width="3.8"/>
<path d="M2746.3 824.7 L2747.3 840.2" stroke-width="3.2"/>
<circle cx="2747.3" cy="846.7" r="6.5" stroke-width="3.2" fill="#fff"/>
<path d="M2747.3 840.2 L2747.3 853.2" stroke-width="3.8"/>
<path d="M2368 798.3 L2428 798.3" stroke-width="2.8"/>
<path d="M2439.7 798.3 L2451.3 798" stroke-width="2.8"/>
<path d="M2464.7 797.3 L2781.3 779" stroke-width="2.8"/>
<path d="M2793 778 L2811.3 776.7" stroke-width="2.8"/>
<path d="M2824.7 775.7 L3101.3 750.7" stroke-width="2.8"/>
<path d="M3114.7 749.7 L3131.3 748" stroke-width="2.8"/>
<path d="M3144.7 746.7 L3226.7 735.3" stroke-width="2.8"/>
<path d="M2988 747.3 L2989.7 768" stroke-width="3.4"/>
<text x="2997.3" y="751.7" font-size="30">3</text>
<text x="2415.7" y="786" font-size="32" letter-spacing="3">As</text>
<text x="0" y="0" font-size="32" letter-spacing="3" transform="translate(2925.3 720.7) rotate(-4) scale(1 1)">As</text>
<text x="3154" y="831.7" font-size="32" letter-spacing="3">As</text>
<path d="M2503 775.7 L2506.3 835.7" stroke-width="2.8"/>
<path d="M2503 775.7 L2507.1 791.5 L2503.9 791.6 Z" fill="#000" stroke-width="0.8"/>
<path d="M2506.3 835.7 L2502.3 819.9 L2505.4 819.7 Z" fill="#000" stroke-width="0.8"/>
<text x="0" y="0" font-size="30" letter-spacing="4" transform="translate(2524.7 820) rotate(-80) scale(1 1)">6.0</text>
<path d="M2371.3 775.7 L2370.7 825.7" stroke-width="2.8"/>
<path d="M2371.3 775.7 L2374.3 791.7 L2371.1 791.7 Z" fill="#000" stroke-width="0.8"/>
<path d="M2370.7 825.7 L2367.7 809.6 L2370.9 809.7 Z" fill="#000" stroke-width="0.8"/>
<path d="M2549.7 904 C2550.5 898.4 2551.6 879.8 2554.7 870.7 C2557.7 861.5 2561.3 855 2568 849 C2574.7 843 2590.2 837.1 2594.7 834.7" stroke-width="4.2"/>
<path d="M2594.7 834.7 L3226.7 777.3" stroke-width="4.2"/>
<g transform="translate(2624.7 840) rotate(-5)"><rect x="-10.5" y="-7" width="21" height="14" stroke-width="2.4" fill="#fff"/><circle r="4.5" stroke-width="2.4" fill="none"/></g>
<g transform="translate(2736.3 830) rotate(-5)"><rect x="-10.5" y="-7" width="21" height="14" stroke-width="2.4" fill="#fff"/><circle r="4.5" stroke-width="2.4" fill="none"/></g>
<g transform="translate(2855.3 819) rotate(-5)"><rect x="-10.5" y="-7" width="21" height="14" stroke-width="2.4" fill="#fff"/><circle r="4.5" stroke-width="2.4" fill="none"/></g>
<g transform="translate(2976.3 808) rotate(-5)"><rect x="-10.5" y="-7" width="21" height="14" stroke-width="2.4" fill="#fff"/><circle r="4.5" stroke-width="2.4" fill="none"/></g>
<g transform="translate(3091.3 796.3) rotate(-5)"><rect x="-10.5" y="-7" width="21" height="14" stroke-width="2.4" fill="#fff"/><circle r="4.5" stroke-width="2.4" fill="none"/></g>
<g transform="translate(3208 787.3) rotate(-5)"><rect x="-10.5" y="-7" width="21" height="14" stroke-width="2.4" fill="#fff"/><circle r="4.5" stroke-width="2.4" fill="none"/></g>
<text x="2687.3" y="869" font-size="23" style="stroke:#000;stroke-width:0.8px;stroke-linejoin:round">P</text>
<path d="M2368 869 L2553 862.3" stroke-width="2.8"/>
<path d="M2368 874.7 L2424.7 874.7" stroke-width="2.8" stroke-dasharray="22 7"/>
<path d="M2368 840.7 C2373.6 840.9 2392.4 839.6 2401.3 842.3 C2410.2 845.1 2416.6 851.5 2421.3 857.3 C2426.1 863.2 2428.3 874 2429.7 877.3" stroke-width="4.2"/>
<circle cx="2426.3" cy="877.3" r="2.9" fill="#000" stroke="none"/>
<path d="M2524.7 919 C2528.6 917.3 2526.9 915.3 2548 909 C2569.1 902.7 2609.1 887.6 2651.3 881.3 C2693.6 875.1 2737.4 874.8 2801.3 871.3 C2865.2 867.9 2963.8 864.9 3034.7 860.7 C3105.6 856.4 3194.7 848.2 3226.7 845.7" stroke-width="2.8"/>
<path d="M2548 909 C2565.2 904.1 2609.1 885.9 2651.3 879.3 C2693.6 872.7 2737.4 872.8 2801.3 869.3 C2865.2 865.9 2963.8 862.9 3034.7 858.7 C3105.6 854.4 3194.7 846.2 3226.7 843.7" stroke-width="3.4"/>
<circle cx="2548" cy="914" r="2.9" fill="#000" stroke="none"/>
<circle cx="2589.7" cy="900.7" r="2.9" fill="#000" stroke="none"/>
<circle cx="2643" cy="890" r="2.9" fill="#000" stroke="none"/>
<circle cx="3033" cy="860.7" r="2.9" fill="#000" stroke="none"/>
<circle cx="3191.3" cy="850" r="2.9" fill="#000" stroke="none"/>
<circle cx="2663" cy="905.7" r="1.8" fill="#000" stroke="none"/>
<circle cx="2621.3" cy="912.3" r="1.6" fill="#000" stroke="none"/>
<path d="M2388 604 L2429.7 664 L2448 675.7 L2468 714" stroke-width="3.4"/>
<path d="M2401.3 604 L2431.3 657.3 L2448 649 L2459.7 672.3 L2571.3 610.7 L2565.7 605" stroke-width="3.8"/>
<g transform="translate(2480.7 718) rotate(-3)"><path d="M-17 0 H17" stroke-width="2.4"/><circle r="7" stroke-width="2.4" fill="#fff"/></g>
<path d="M2496.3 710.7 L2671.3 623.3" stroke-width="3.7" stroke-dasharray="0.1 10.5" stroke-linecap="round"/>
<path d="M2635.3 657 L2646.3 669 L2658.3 655" stroke-width="2.8"/>
<circle cx="2602" cy="684" r="2" fill="#000" stroke="none"/>
<text x="2612.3" y="695.3" font-size="24.5" letter-spacing="2" style="stroke:#000;stroke-width:0.8px;stroke-linejoin:round">55.3</text>
<path d="M2664.7 605 C2670.8 613.2 2688 639.4 2701.3 654 C2714.7 668.6 2734.7 684.8 2744.7 692.3 C2754.7 699.8 2758.6 697.9 2761.3 699" stroke-width="3.4"/>
<path d="M2696.3 604 C2701.9 610.7 2717.7 632.1 2729.7 644 C2741.6 655.9 2752.2 665.9 2768 675.7 C2783.8 685.4 2815.2 697.9 2824.7 702.3" stroke-width="2.8"/>
<path d="M2701.3 604 C2706.8 610.2 2722.3 629.9 2734 641.3 C2745.7 652.7 2755.4 662.4 2771.3 672.3 C2787.3 682.2 2819.9 695.9 2829.7 700.7" stroke-width="2.8"/>
<circle cx="2759.7" cy="698.3" r="8.4" fill="#000" stroke="none"/>
<path d="M2743 699.3 L2777.3 697.3" stroke-width="2.8"/>
<circle cx="2767" cy="677.3" r="3.6" fill="#000" stroke="none"/>
<path d="M2769.7 604 L2756.3 637.3 L2911.3 687.3 L2931.3 625.7 L2866.3 604" stroke-width="3.8"/>
<path d="M2918 604 L2949.7 624 L2968 604" stroke-width="3.8"/>
<path d="M2934.7 692.3 C2934.7 688.7 2932.4 679.8 2934.7 670.7 C2936.9 661.5 2941.3 648.4 2948 637.3 C2954.7 626.2 2970.2 609.6 2974.7 604" stroke-width="3.8"/>
<path d="M2949.7 670.7 C2951.6 666.8 2956.6 654.6 2961.3 647.3 C2966.1 640.1 2975.2 630.7 2978 627.3" stroke-width="2.8"/>
<path d="M2943 670.7 L2954.7 640.7 L2978 610.7" stroke-width="3.2" stroke-dasharray="0.1 7" stroke-linecap="round"/>
<circle cx="2938" cy="683.3" r="4" fill="#000" stroke="none"/>
<circle cx="2988.7" cy="610" r="4" fill="#000" stroke="none"/>
<text x="3031.3" y="620" font-size="24.5" letter-spacing="2.2">54.6</text>
<g transform="translate(3134.7 649.7) rotate(-5)"><path d="M-18 0 H18" stroke-width="2.4"/><circle r="7" stroke-width="2.4" fill="#fff"/></g>
<path d="M3144.7 672.3 C3151.3 668.7 3171 656.5 3184.7 650.7 C3198.3 644.8 3219.7 639.6 3226.7 637.3" stroke-width="3.1"/>
<defs><pattern id="sc" width="34" height="17" patternUnits="userSpaceOnUse" patternTransform="rotate(-5)"><path d="M0 0 A20 20 0 0 0 34 0 M0 17 A20 20 0 0 0 34 17 M-17 8.5 A20 20 0 0 0 17 8.5 M17 8.5 A20 20 0 0 0 51 8.5 M-17 -8.5 A20 20 0 0 0 17 -8.5 M17 -8.5 A20 20 0 0 0 51 -8.5" stroke="#000" stroke-width="2.2" fill="none"/></pattern><pattern id="sc2" width="34" height="17" patternUnits="userSpaceOnUse" patternTransform="rotate(-9.5)"><path d="M0 0 A20 20 0 0 0 34 0 M0 17 A20 20 0 0 0 34 17 M-17 8.5 A20 20 0 0 0 17 8.5 M17 8.5 A20 20 0 0 0 51 8.5 M-17 -8.5 A20 20 0 0 0 17 -8.5 M17 -8.5 A20 20 0 0 0 51 -8.5" stroke="#000" stroke-width="2.2" fill="none"/></pattern></defs>
<path d="M2666 887 L2997 865.5 L2997 949 L2868 962 L2871.5 989.7 L2683 997 Z" fill="url(#sc)" stroke-width="2"/>
<path d="M3490.3 814 L3763.7 769 L3777 857.3 L3563.7 890.7 L3513.7 894.7 L3493.7 844 Z" fill="url(#sc2)" stroke="none"/>
<path d="M3227 665.7 L3347 654 L3415.3 646.7 L3500 605.5 L3614.8 546.9 L3651.5 527.9" stroke-width="2.8"/>
<path d="M3227 672.3 L3420.3 654 L3613.7 556.9" stroke-width="2.8" stroke-dasharray="22 7"/>
<path d="M3227 700 L3407 684" stroke-width="4.2"/>
<path d="M3415.3 680.7 L3622.6 568" stroke-width="4.4"/>
<path d="M3409.7 681.3 L3409.7 702.3" stroke-width="2.8"/>
<circle cx="3407" cy="699" r="3" stroke-width="1.6" fill="none"/>
<g transform="translate(3359.7 642.3) rotate(-4)"><rect x="-11.5" y="-11.5" width="23" height="23" stroke-width="2" fill="#fff"/><path d="M-7 -7 L7 7 M7 -7 L-7 7" stroke-width="2"/></g>
<path d="M3331 600 L3352 632.3" stroke-width="2.8"/>
<path d="M3227 637.3 C3238.1 634.3 3271.4 623.4 3293.7 619 C3315.9 614.6 3345.3 610.5 3360.3 610.7 C3375.3 610.8 3377 615.6 3383.7 620 C3390.3 624.4 3395.3 632.8 3400.3 637.3 C3405.3 641.9 3411.4 645.7 3413.7 647.3" stroke-width="3.1"/>
<path d="M3457 604 L3463.7 620.7" stroke-width="3.2" stroke-dasharray="0.1 5" stroke-linecap="round"/>
<g transform="translate(3256.3 689) rotate(-5)"><rect x="-10.5" y="-7" width="21" height="14" stroke-width="2.4" fill="#fff"/><circle r="4.5" stroke-width="2.4" fill="none"/></g>
<g transform="translate(3336.3 680) rotate(-5)"><rect x="-10.5" y="-7" width="21" height="14" stroke-width="2.4" fill="#fff"/><circle r="4.5" stroke-width="2.4" fill="none"/></g>
<text x="3539" y="671.7" font-size="32" letter-spacing="3">As</text>
<path d="M3227 735.3 L3440.3 712.3" stroke-width="2.8"/>
<path d="M3460.3 710 L3473.7 708.7" stroke-width="2.8"/>
<path d="M3490.3 707.3 L3748.7 682.3" stroke-width="2.8"/>
<path d="M3426 689 L3430.3 750.7" stroke-width="3.4"/>
<path d="M3426 689 L3430.3 704.7 L3427.1 705 Z" fill="#000" stroke-width="0.8"/>
<path d="M3430.3 750.7 L3426 734.9 L3429.2 734.7 Z" fill="#000" stroke-width="0.8"/>
<text x="0" y="0" font-size="30" letter-spacing="4" transform="translate(3449.7 739) rotate(-82) scale(1 1)">6.7</text>
<path d="M3631 662.3 L3637.7 732.3" stroke-width="3.4"/>
<path d="M3631 662.3 L3635.7 678 L3632.5 678.3 Z" fill="#000" stroke-width="0.8"/>
<path d="M3637.7 732.3 L3633 716.7 L3636.1 716.4 Z" fill="#000" stroke-width="0.8"/>
<text x="0" y="0" font-size="30" letter-spacing="4" transform="translate(3628.7 726.7) rotate(-80) scale(1 1)">6.2</text>
<path d="M3227 776.7 L3757 729" stroke-width="4.2"/>
<g transform="translate(3324.3 775.7) rotate(-5)"><rect x="-10.5" y="-7" width="21" height="14" stroke-width="2.4" fill="#fff"/><circle r="4.5" stroke-width="2.4" fill="none"/></g>
<g transform="translate(3442 766.3) rotate(-5)"><rect x="-10.5" y="-7" width="21" height="14" stroke-width="2.4" fill="#fff"/><circle r="4.5" stroke-width="2.4" fill="none"/></g>
<g transform="translate(3559.7 754.7) rotate(-5)"><rect x="-10.5" y="-7" width="21" height="14" stroke-width="2.4" fill="#fff"/><circle r="4.5" stroke-width="2.4" fill="none"/></g>
<g transform="translate(3679.3 744.7) rotate(-5)"><rect x="-10.5" y="-7" width="21" height="14" stroke-width="2.4" fill="#fff"/><circle r="4.5" stroke-width="2.4" fill="none"/></g>
<path d="M3333 772.3 L3336.3 786.5" stroke-width="3.2"/>
<circle cx="3336.3" cy="793" r="6.5" stroke-width="3.2" fill="#fff"/>
<path d="M3336.3 786.5 L3336.3 799.5" stroke-width="3.8"/>
<text x="3631.3" y="778.7" font-size="23" style="stroke:#000;stroke-width:0.8px;stroke-linejoin:round">P</text>
<path d="M3749.5 676 L3753.5 698" stroke-width="2.8"/>
<path d="M3754.7 708 L3815 1085" stroke-width="2.8"/>
<g transform="translate(3677.8 639.3)"><circle r="8" stroke-width="2.4" fill="#fff"/><path d="M-8 0 A8 8 0 0 0 8 0 Z" fill="#000" stroke="none"/></g>
<path d="M3670.5 649.4 C3671.4 650.7 3672.8 655.4 3676 657 C3679.2 658.6 3678.5 659 3690 659 C3701.5 659 3735.8 657.3 3745 657" stroke-width="3.1"/>
<path d="M3715.7 616 v-24.6 M3708.9 616 v-7.6 M3722.5 616 v-8.5" stroke-width="2.8"/>
<path d="M3227 844.7 C3249.2 842.2 3309.2 836.9 3360.3 830 C3411.4 823.1 3466.4 813.9 3533.7 803.3 C3600.9 792.7 3725.3 772.5 3763.7 766.3" stroke-width="3.8"/>
<path d="M3360.3 833.3 C3389.2 828.9 3466.4 817.3 3533.7 806.7 C3600.9 796.1 3725.3 775.8 3763.7 769.7" stroke-width="2.2"/>
<path d="M3777 857.3 L3563.7 891.3 L3560.3 912.3 L3540.3 919.7" stroke-width="3.1"/>
<path d="M3413.7 918 L3563.7 892.3" stroke-width="3.2"/>
<circle cx="3433.7" cy="910" r="2.9" fill="#000" stroke="none"/>
<circle cx="3483.7" cy="904" r="2.9" fill="#000" stroke="none"/>
<circle cx="3530.3" cy="897.3" r="2.9" fill="#000" stroke="none"/>
<path d="M3643.7 904 L3707 887.3" stroke-width="2.8"/>
<circle cx="3720.3" cy="884.7" r="4" fill="#000" stroke="none"/>
<path d="M3733.7 882.3 L3777 878" stroke-width="2.8"/>
<circle cx="3627" cy="910" r="4" fill="#000" stroke="none"/>
<circle cx="3545.3" cy="906.7" r="1.7" fill="#000" stroke="none"/>
<circle cx="3508.7" cy="914" r="1.7" fill="#000" stroke="none"/>
<path d="M740.8 919 L692.3 978.3" stroke-width="3.4"/>
<path d="M793.3 918 L715 1016.3" stroke-width="2.8" stroke-dasharray="40 10"/>
<path d="M720 973 L737.3 985.3" stroke-width="2.8"/>
<path d="M696.7 977.3 L721.7 951.3" stroke-width="2.5"/>
<path d="M700.7 980 L725 954.3" stroke-width="2.5"/>
<path d="M704.7 982.7 L728.3 957.3" stroke-width="2.5"/>
<path d="M708.7 985.3 L731.7 960.3" stroke-width="2.5"/>
<path d="M712.7 988 L735 963.3" stroke-width="2.5"/>
<circle cx="700" cy="968" r="3.4" fill="#000" stroke="none"/>
<path d="M790 921.3 L1046.7 1009.7" stroke-width="3.1" stroke-dasharray="38 12"/>
<path d="M1046.7 1001.3 L1216.7 919.7" stroke-width="3.1" stroke-dasharray="38 12"/>
<path d="M933.3 918 L920 968" stroke-width="3.1" stroke-dasharray="38 12"/>
<path d="M913.3 1013 L895 1101.3" stroke-width="3.1" stroke-dasharray="38 12"/>
<path d="M738.3 998 L823.3 1074.7 L910 1114.7" stroke-width="3.4" stroke-dasharray="0.1 9" stroke-linecap="round"/>
<path d="M1043.3 924.7 L1033.3 968 L1048.3 1014.7 L1036.7 1114.7" stroke-width="3.7" stroke-dasharray="0.1 10.5" stroke-linecap="round"/>
<path d="M693.3 1001.3 L840 1121.3" stroke-width="2.5"/>
<path d="M693.3 1001.3 A11.5 6.9 39.3 0 0 711.1 1015.9 M711.1 1015.9 A11.5 6.9 39.3 0 0 728.9 1030.5 M728.9 1030.5 A11.5 6.9 39.3 0 0 746.7 1045 M746.7 1045 A11.5 6.9 39.3 0 0 764.5 1059.6 M764.5 1059.6 A11.5 6.9 39.3 0 0 782.3 1074.2 M782.3 1074.2 A11.5 6.9 39.3 0 0 800.1 1088.7 M800.1 1088.7 A11.5 6.9 39.3 0 0 817.9 1103.3 M817.9 1103.3 A11.5 6.9 39.3 0 0 835.7 1117.8 " stroke-width="2.5"/>
<path d="M695 1058 L775 1127.3" stroke-width="2.5"/>
<path d="M695 1058 A11.5 6.9 40.9 0 0 712.4 1073.1 M712.4 1073.1 A11.5 6.9 40.9 0 0 729.8 1088.1 M729.8 1088.1 A11.5 6.9 40.9 0 0 747.1 1103.2 M747.1 1103.2 A11.5 6.9 40.9 0 0 764.5 1118.3 " stroke-width="2.5"/>
<path d="M824.3 1094 v-16 M819.9 1094 v-5 M828.7 1094 v-5.5" stroke-width="2.8"/>
<path d="M800.7 1002.7 L811.7 1014.7 L823.7 1000.7" stroke-width="2.8"/>
<path d="M972.3 929.3 L983.3 941.3 L995.3 927.3" stroke-width="2.8"/>
<path d="M961.7 1043.3 L972.7 1055.3 L984.7 1041.3" stroke-width="2.8"/>
<circle cx="857.7" cy="987.3" r="2.5" fill="#000" stroke="none"/>
<text x="865.3" y="998" font-size="24.5" letter-spacing="2" style="stroke:#000;stroke-width:0.8px;stroke-linejoin:round">54.8</text>
<circle cx="1006.7" cy="1032.3" r="2.5" fill="#000" stroke="none"/>
<text x="1019.3" y="1043.7" font-size="24.5" letter-spacing="2" style="stroke:#000;stroke-width:0.8px;stroke-linejoin:round">54.8</text>
<text x="1114.3" y="936.3" font-size="24.5" letter-spacing="2" style="stroke:#000;stroke-width:0.8px;stroke-linejoin:round">54.7</text>
<path d="M1186.7 918 L1204 932" stroke-width="2.8"/>
<circle cx="1219.3" cy="944" r="4.3" fill="#000" stroke="none"/>
<path d="M1231.7 953 L1276.7 989.7" stroke-width="3.1"/>
<path transform="translate(1261.7 975.3) rotate(0)" d="M-5.5 -12.5 V12.5 M5.5 -12.5 V12.5" stroke-width="2.8"/>
<circle cx="1291.7" cy="1001.3" r="4.3" fill="#000" stroke="none"/>
<path d="M1305 1011.3 L1350 1046.3" stroke-width="3.1"/>
<circle cx="1371.7" cy="1066.3" r="4.3" fill="#000" stroke="none"/>
<path d="M1395 1083 L1433.3 1113" stroke-width="3.1"/>
<circle cx="1239.3" cy="1031.3" r="2" fill="#000" stroke="none"/>
<text x="1252" y="1042" font-size="24.5" letter-spacing="2" style="stroke:#000;stroke-width:0.8px;stroke-linejoin:round">54.6</text>
<text x="1324.3" y="1105.3" font-size="24.5" letter-spacing="2" style="stroke:#000;stroke-width:0.8px;stroke-linejoin:round">54.4</text>
<circle cx="1390.7" cy="1093.7" r="2.7" fill="#000" stroke="none"/>
<path d="M1221.7 1114.7 L1336.7 1049.7 L1426.7 1013" stroke-width="3.4" stroke-dasharray="0.1 10" stroke-linecap="round"/>
<path d="M1406.7 918 C1408.3 919.7 1413.9 924.4 1416.7 928 C1419.4 931.6 1420.8 935.2 1423.3 939.7 C1425.8 944.1 1429.4 949.9 1431.7 954.7 C1433.9 959.4 1434.4 963 1436.7 968 C1438.9 973 1442.8 979.1 1445 984.7 C1447.2 990.2 1447.8 995.2 1450 1001.3 C1452.2 1007.4 1455.6 1014.1 1458.3 1021.3 C1461.1 1028.6 1463.9 1038 1466.7 1044.7 C1469.4 1051.3 1472.8 1055.8 1475 1061.3 C1477.2 1066.9 1477.8 1072.4 1480 1078 C1482.2 1083.6 1486.4 1089.4 1488.3 1094.7 C1490.3 1099.9 1491.1 1107.2 1491.7 1109.7" stroke-width="3.2"/>
<path d="M1406.7 918 L1382.1 931.4" stroke-width="2.5"/>
<path d="M1414.7 928.5 L1390.1 941.9" stroke-width="2.5"/>
<path d="M1422.8 938.9 L1398.2 952.3" stroke-width="2.5"/>
<path d="M1428.6 950.8 L1401.7 958.6" stroke-width="2.5"/>
<path d="M1434.2 962.7 L1407.3 970.5" stroke-width="2.5"/>
<path d="M1439.4 974.8 L1412.1 981" stroke-width="2.5"/>
<path d="M1444.3 987.1 L1417 993.3" stroke-width="2.5"/>
<path d="M1449.2 999.3 L1421.9 1005.5" stroke-width="2.5"/>
<path d="M1454 1011.6 L1426.6 1017.5" stroke-width="2.5"/>
<path d="M1458.7 1024 L1431.3 1029.8" stroke-width="2.5"/>
<path d="M1463.4 1036.3 L1436.1 1042.1" stroke-width="2.5"/>
<path d="M1468.2 1048.6 L1440.9 1054.8" stroke-width="2.5"/>
<path d="M1473.1 1060.8 L1445.8 1067" stroke-width="2.5"/>
<path d="M1478 1073.1 L1450.7 1079.3" stroke-width="2.5"/>
<path d="M1482.7 1085.4 L1455.3 1090.9" stroke-width="2.5"/>
<path d="M1487.3 1097.8 L1459.8 1103.3" stroke-width="2.5"/>
<path d="M1448.3 994.7 L1508.7 973" stroke-width="3.1" stroke-dasharray="38 12"/>
<path d="M1480 1076.3 L1508.7 1064.7" stroke-width="3.4" stroke-dasharray="0.1 10" stroke-linecap="round"/>
<circle cx="1492" cy="931" r="2.5" fill="#000" stroke="none"/>
<text x="1500" y="941" font-size="24.5" letter-spacing="2" style="stroke:#000;stroke-width:0.8px;stroke-linejoin:round">54.4</text>
<path d="M1448.3 994.7 L1689 918 L1730 905" stroke-width="3.1" stroke-dasharray="38 12"/>
<path d="M1559 946.3 L1580.7 1008" stroke-width="3.1" stroke-dasharray="38 12"/>
<path transform="translate(1525.7 1012) rotate(0)" d="M-5 -12 V12 M5 -12 V12" stroke-width="2.8"/>
<circle cx="1554" cy="1013" r="2.5" fill="#000" stroke="none"/>
<text x="1561.7" y="1024" font-size="24.5" letter-spacing="2" style="stroke:#000;stroke-width:0.8px;stroke-linejoin:round">54.3</text>
<path transform="translate(1654 995.3) rotate(0)" d="M-6 -13 V13 M6 -13 V13" stroke-width="2.8"/>
<circle cx="1683" cy="1007.3" r="2.5" fill="#000" stroke="none"/>
<text x="1695" y="1017.3" font-size="24.5" letter-spacing="2" style="stroke:#000;stroke-width:0.8px;stroke-linejoin:round">54.3</text>
<path d="M1509 1063 L1592.3 1033 L1629 1114.7" stroke-width="3.7" stroke-dasharray="0.1 9.5" stroke-linecap="round"/>
<path d="M1551.3 1092.7 L1562.3 1104.7 L1574.3 1090.7" stroke-width="2.8"/>
<path d="M1690.7 933 L1710.7 924.7" stroke-width="2.5"/>
<path d="M1697.3 946.3 L1719 939.7" stroke-width="2.5"/>
<path d="M1704 959.7 L1725.7 953" stroke-width="2.5"/>
<path d="M1712.3 971.3 L1734 965.7" stroke-width="2.5"/>
<path d="M1717.3 981.3 L1739 977.3" stroke-width="2.5"/>
<path d="M1722.3 989.7 L1744 986.3" stroke-width="2.5"/>
<path d="M1742.3 1023 L1760.7 1018" stroke-width="2.5"/>
<path d="M1744 1031.3 L1769 1029.7" stroke-width="2.5"/>
<path d="M1744 1039.7 L1765.7 1046.3" stroke-width="2.5"/>
<path d="M1739 1046.3 L1760.7 1056.3" stroke-width="2.5"/>
<path d="M1734 1053 L1750.7 1066.3" stroke-width="2.5"/>
<path d="M1727.3 1061.3 L1740.7 1076.3" stroke-width="2.5"/>
<path d="M1717.3 1068 L1729 1084.7" stroke-width="2.5"/>
<path d="M1705.7 1076.3 L1715.7 1093" stroke-width="2.5"/>
<path d="M1694 1083 L1702.3 1099.7" stroke-width="2.5"/>
<path d="M1682.3 1091.3 L1690.7 1108" stroke-width="2.5"/>
<path d="M1672.3 1098 L1680.7 1114.7" stroke-width="2.5"/>
<path d="M1662.3 1108 L1670.7 1121.3" stroke-width="2.5"/>
<path d="M1757.3 924.7 L1879 1079.7 L1925.7 1136.3" stroke-width="3.7" stroke-dasharray="0.1 10.5" stroke-linecap="round"/>
<path d="M1800.7 1078 v-29 M1792.7 1078 v-9 M1808.7 1078 v-10" stroke-width="2.8"/>
<path d="M1879.7 931 L1890.7 943 L1902.7 929" stroke-width="2.8"/>
<circle cx="1925" cy="931.3" r="2.7" fill="#000" stroke="none"/>
<text x="1935.7" y="942.7" font-size="24.5" letter-spacing="2" style="stroke:#000;stroke-width:0.8px;stroke-linejoin:round">54.0</text>
<circle cx="2125" cy="929.7" r="2.5" fill="#000" stroke="none"/>
<text x="2135" y="941.3" font-size="24.5" letter-spacing="2" style="stroke:#000;stroke-width:0.8px;stroke-linejoin:round">54.</text>
<path d="M2183 924 L2183 941.3" stroke-width="2.8"/>
<path d="M1879 1079.7 L2062.3 926.3" stroke-width="3.4" stroke-dasharray="30 10"/>
<path d="M2062.3 918 L2125.7 1003" stroke-width="3.4" stroke-dasharray="30 10"/>
<path d="M1945.7 1144 L2125.7 1003 L2259 918" stroke-width="3.4" stroke-dasharray="30 10"/>
<path d="M2004.7 1017.7 L2015.7 1029.7 L2027.7 1015.7" stroke-width="2.8"/>
<path transform="translate(2097.3 1074.7) rotate(-38)" d="M-22 -2.5 H22 M-15 -7.1 H15 M-8 -11.7 H8 M0 -11.7 V-29.7 M-3 -29.7 H3" stroke-width="2.3"/>
<path transform="translate(2160.7 1019.7) rotate(-38)" d="M-22 -2.5 H22 M-15 -7.1 H15 M-8 -11.7 H8 M0 -11.7 V-29.7 M-3 -29.7 H3" stroke-width="2.3"/>
<path transform="translate(2229 969.7) rotate(-30)" d="M-22 -2.5 H22 M-15 -7.1 H15 M-8 -11.7 H8 M0 -11.7 V-29.7 M-3 -29.7 H3" stroke-width="2.3"/>
<path d="M2077.3 1098 C2085.4 1091.6 2108.7 1074.2 2125.7 1059.7 C2142.6 1045.1 2159.6 1026.8 2179 1010.7 C2198.4 994.6 2221.8 975.2 2242.3 963 C2262.9 950.8 2292.3 941.6 2302.3 937.3" stroke-width="2.8"/>
<path d="M2172.3 1015.3 C2181.2 1009.1 2208.4 989.1 2225.7 978 C2242.9 966.9 2262.6 955.4 2275.7 948.7 C2288.7 941.9 2299.3 939.2 2304 937.3" stroke-width="3.8"/>
<path d="M2185.7 1109.7 C2194 1103.6 2220.7 1083.8 2235.7 1073 C2250.7 1062.2 2261.8 1053.8 2275.7 1044.7 C2289.6 1035.5 2303.7 1026.6 2319 1018 C2334.3 1009.4 2359.6 997.2 2367.7 993" stroke-width="3.2"/>
<circle cx="2199" cy="1101.3" r="3.8" fill="#000" stroke="none"/>
<circle cx="2235.7" cy="1073" r="3.8" fill="#000" stroke="none"/>
<circle cx="2275.7" cy="1044.7" r="3.8" fill="#000" stroke="none"/>
<circle cx="2319" cy="1018" r="3.8" fill="#000" stroke="none"/>
<circle cx="2359" cy="997" r="3.8" fill="#000" stroke="none"/>
<path d="M2267.3 1198 C2271.5 1195.8 2282.1 1191.3 2292.3 1184.7 C2302.6 1178 2316.4 1166.9 2329 1158 C2341.6 1149.1 2361.2 1135.8 2367.7 1131.3" stroke-width="3.4"/>
<circle cx="2292.3" cy="1185.7" r="3.4" fill="#000" stroke="none"/>
<circle cx="2324" cy="1155.3" r="3.4" fill="#000" stroke="none"/>
<circle cx="2362.3" cy="1131.3" r="3.4" fill="#000" stroke="none"/>
<circle cx="2147.3" cy="1093" r="1.8" fill="#000" stroke="none"/>
<circle cx="2232.3" cy="1106.3" r="1.8" fill="#000" stroke="none"/>
<circle cx="2269" cy="1076.3" r="1.8" fill="#000" stroke="none"/>
<circle cx="2302.3" cy="1086.3" r="1.8" fill="#000" stroke="none"/>
<circle cx="2309" cy="1050.7" r="1.8" fill="#000" stroke="none"/>
<circle cx="2269" cy="1111.3" r="1.8" fill="#000" stroke="none"/>
<circle cx="2302.3" cy="1120.7" r="1.8" fill="#000" stroke="none"/>
<circle cx="2339" cy="1098" r="1.8" fill="#000" stroke="none"/>
<circle cx="2232.3" cy="1142" r="1.8" fill="#000" stroke="none"/>
<circle cx="2269" cy="1147.3" r="1.8" fill="#000" stroke="none"/>
<circle cx="2299" cy="1155.3" r="1.8" fill="#000" stroke="none"/>
<circle cx="2332.3" cy="1128" r="1.8" fill="#000" stroke="none"/>
<circle cx="2260.7" cy="1179.7" r="1.8" fill="#000" stroke="none"/>
<circle cx="2342.3" cy="1059.7" r="1.8" fill="#000" stroke="none"/>
<path d="M2258 912.5 L2385.5 1117.5" stroke-width="3.4" stroke-dasharray="30 10"/>
<path d="M2288 900 L2408 1107.5" stroke-width="3.4" stroke-dasharray="30 10"/>
<circle cx="2275.7" cy="943" r="3.4" fill="#000" stroke="none"/>
<circle cx="2295.7" cy="933" r="3.8" fill="#000" stroke="none"/>
<path d="M2368 989.7 C2381.9 983.3 2424.7 963.3 2451.3 951.3 C2478 939.4 2515.2 923.6 2528 918" stroke-width="3.2"/>
<circle cx="2406.3" cy="973" r="3.8" fill="#000" stroke="none"/>
<circle cx="2453" cy="950.7" r="3.8" fill="#000" stroke="none"/>
<circle cx="2501.3" cy="930.7" r="3.8" fill="#000" stroke="none"/>
<path d="M2368 1129.7 C2379.7 1122.7 2411.9 1101.9 2438 1088 C2464.1 1074.1 2498 1058 2524.7 1046.3 C2551.3 1034.7 2571.3 1025.9 2598 1018 C2624.7 1010.1 2661.3 1002.4 2684.7 998.7 C2708 994.9 2729.1 995.9 2738 995.3" stroke-width="3.4"/>
<circle cx="2438" cy="1088.7" r="3.4" fill="#000" stroke="none"/>
<circle cx="2524" cy="1046.3" r="3.4" fill="#000" stroke="none"/>
<circle cx="2561.3" cy="1032.3" r="3.4" fill="#000" stroke="none"/>
<circle cx="2598" cy="1018" r="3.4" fill="#000" stroke="none"/>
<circle cx="2636.3" cy="1008" r="3.4" fill="#000" stroke="none"/>
<path d="M2738 995.3 L2871.3 989.7" stroke-width="3.1"/>
<circle cx="2571.3" cy="926.3" r="1.8" fill="#000" stroke="none"/>
<circle cx="2643" cy="931.3" r="1.8" fill="#000" stroke="none"/>
<circle cx="2526.3" cy="940.7" r="1.8" fill="#000" stroke="none"/>
<circle cx="2601.3" cy="943" r="1.8" fill="#000" stroke="none"/>
<circle cx="2483" cy="954" r="1.8" fill="#000" stroke="none"/>
<circle cx="2553" cy="955.3" r="1.8" fill="#000" stroke="none"/>
<circle cx="2623" cy="961.3" r="1.8" fill="#000" stroke="none"/>
<circle cx="2666.3" cy="957.3" r="1.8" fill="#000" stroke="none"/>
<circle cx="2439.7" cy="974.7" r="1.8" fill="#000" stroke="none"/>
<circle cx="2509.7" cy="970.7" r="1.8" fill="#000" stroke="none"/>
<circle cx="2581.3" cy="970.7" r="1.8" fill="#000" stroke="none"/>
<circle cx="2648" cy="978" r="1.8" fill="#000" stroke="none"/>
<circle cx="2471.3" cy="989.7" r="1.8" fill="#000" stroke="none"/>
<circle cx="2539.7" cy="986.3" r="1.8" fill="#000" stroke="none"/>
<circle cx="2609.7" cy="989.7" r="1.8" fill="#000" stroke="none"/>
<circle cx="2394.7" cy="998" r="1.8" fill="#000" stroke="none"/>
<circle cx="2499.7" cy="1005.3" r="1.8" fill="#000" stroke="none"/>
<circle cx="2571.3" cy="1003" r="1.8" fill="#000" stroke="none"/>
<circle cx="2429.7" cy="1012" r="1.8" fill="#000" stroke="none"/>
<circle cx="2534.7" cy="1020.7" r="1.8" fill="#000" stroke="none"/>
<circle cx="2384.7" cy="1034.7" r="1.8" fill="#000" stroke="none"/>
<circle cx="2459.7" cy="1026.3" r="1.8" fill="#000" stroke="none"/>
<circle cx="2418" cy="1048.7" r="1.8" fill="#000" stroke="none"/>
<circle cx="2491.3" cy="1040.7" r="1.8" fill="#000" stroke="none"/>
<circle cx="2451.3" cy="1059.7" r="1.8" fill="#000" stroke="none"/>
<circle cx="2408" cy="1081.3" r="1.8" fill="#000" stroke="none"/>
<circle cx="2373" cy="1069.7" r="1.8" fill="#000" stroke="none"/>
<path d="M2868 963 L3226.7 933" stroke-width="3.8"/>
<path d="M2871.3 989.7 L3226.7 959.7" stroke-width="3.4"/>
<path d="M2868 963 L2871.3 989.7" stroke-width="2.8"/>
<circle cx="2874.7" cy="965.3" r="3.4" fill="#000" stroke="none"/>
<circle cx="2919.7" cy="961.3" r="3.4" fill="#000" stroke="none"/>
<circle cx="2964.7" cy="957.3" r="3.4" fill="#000" stroke="none"/>
<circle cx="3008" cy="953" r="3.4" fill="#000" stroke="none"/>
<circle cx="3053" cy="949" r="3.4" fill="#000" stroke="none"/>
<circle cx="3101.3" cy="944.7" r="3.4" fill="#000" stroke="none"/>
<circle cx="3144.7" cy="941.3" r="3.4" fill="#000" stroke="none"/>
<circle cx="3189.7" cy="938" r="3.4" fill="#000" stroke="none"/>
<circle cx="2899.7" cy="974.7" r="1.9" fill="#000" stroke="none"/>
<circle cx="2941.3" cy="970.7" r="1.9" fill="#000" stroke="none"/>
<circle cx="2986.3" cy="967.3" r="1.9" fill="#000" stroke="none"/>
<circle cx="3031.3" cy="963" r="1.9" fill="#000" stroke="none"/>
<circle cx="3076.3" cy="958" r="1.9" fill="#000" stroke="none"/>
<circle cx="3123" cy="954.7" r="1.9" fill="#000" stroke="none"/>
<circle cx="3168" cy="950.7" r="1.9" fill="#000" stroke="none"/>
<circle cx="3214.7" cy="947.3" r="1.9" fill="#000" stroke="none"/>
<circle cx="2921.3" cy="982.3" r="1.9" fill="#000" stroke="none"/>
<circle cx="2964.7" cy="979.7" r="1.9" fill="#000" stroke="none"/>
<circle cx="3008" cy="976.3" r="1.9" fill="#000" stroke="none"/>
<circle cx="3054.7" cy="971.3" r="1.9" fill="#000" stroke="none"/>
<circle cx="3099.7" cy="968" r="1.9" fill="#000" stroke="none"/>
<circle cx="3146.3" cy="964" r="1.9" fill="#000" stroke="none"/>
<circle cx="3191.3" cy="959.7" r="1.9" fill="#000" stroke="none"/>
<path d="M2459.7 1157.3 C2477.7 1151.9 2539.9 1135.1 2568 1124.7 C2596.1 1114.2 2611.3 1106.9 2628 1094.7 C2644.7 1082.4 2655.8 1064.1 2668 1051.3 C2680.2 1038.6 2689.7 1026.9 2701.3 1018 C2713 1009.1 2731.9 1001.3 2738 998" stroke-width="2.8"/>
<path d="M2671.3 1184 C2676.3 1180.2 2694.7 1170.1 2701.3 1161.3 C2708 1152.6 2706.9 1140.8 2711.3 1131.3 C2715.8 1121.9 2721.3 1111.9 2728 1104.7 C2734.7 1097.4 2747.4 1090.8 2751.3 1088" stroke-width="4.4"/>
<path d="M2788 1064.7 C2794.7 1061.3 2814.4 1050.1 2828 1044.7 C2841.6 1039.2 2862.7 1034.1 2869.7 1032" stroke-width="4.4"/>
<text x="0" y="0" font-size="27" transform="translate(2758.7 1091.3) rotate(-22) scale(1 1)">50</text>
<path d="M2748 1184 C2755.2 1182.2 2778 1178.2 2791.3 1173 C2804.7 1167.8 2814.1 1157.2 2828 1153 C2841.9 1148.8 2866.9 1148.8 2874.7 1148" stroke-width="2.8"/>
<path d="M2696.3 1089.7 v-29 M2688.3 1089.7 v-9 M2704.3 1089.7 v-10" stroke-width="2.8"/>
<path d="M2868 989.7 L2878 1181.3 L3053 1166.3 L3049.7 1118 L3226.7 1089.7" stroke-width="3.1" stroke-dasharray="17 6"/>
<text x="3064" y="1054" font-size="27" letter-spacing="3" style="font-family:'Liberation Sans','Noto Sans CJK JP',sans-serif">水制</text>
<text x="3046" y="1056" font-size="28">(</text>
<text x="3124" y="1056" font-size="28">)</text>
<path d="M3068 1177.3 L3126.3 1151.3" stroke-width="3.1"/>
<circle cx="3144" cy="1141.3" r="4.5" fill="#000" stroke="none"/>
<path d="M3161.3 1133 L3226.7 1104.7" stroke-width="3.1"/>
<path d="M2385.3 1117.3 C2385.4 1117.8 2385.3 1119.3 2385.5 1120.1 C2385.6 1121 2385.8 1121.8 2386.2 1122.6 C2386.7 1123.3 2387.3 1123.9 2387.9 1124.5 C2388.6 1125.1 2389.5 1125.5 2390.3 1126 C2391.1 1126.5 2391.9 1127 2392.6 1127.6 C2393.3 1128.1 2393.9 1128.8 2394.3 1129.5 C2394.7 1130.2 2394.9 1131 2395.1 1131.9 C2395.2 1132.8 2395.2 1133.8 2395.2 1134.7 C2395.3 1135.7 2395.2 1136.6 2395.3 1137.5 C2395.5 1138.4 2395.7 1139.2 2396.1 1140 C2396.5 1140.7 2397.1 1141.3 2397.8 1141.9 C2398.5 1142.4 2399.4 1142.9 2400.2 1143.4 C2400.9 1143.9 2401.8 1144.4 2402.5 1145 C2403.2 1145.5 2403.8 1146.1 2404.2 1146.9 C2404.6 1147.6 2404.8 1148.4 2405 1149.3 C2405.1 1150.2 2405.1 1151.2 2405.1 1152.1 C2405.2 1153 2405.1 1154 2405.2 1154.9 C2405.4 1155.8 2405.6 1156.6 2406 1157.3 C2406.5 1158.1 2407.1 1158.7 2407.7 1159.2 C2408.4 1159.8 2409.3 1160.3 2410.1 1160.8 C2410.9 1161.3 2411.8 1161.7 2412.4 1162.3 C2413.1 1162.9 2413.7 1163.5 2414.1 1164.2 C2414.6 1164.9 2414.8 1165.8 2414.9 1166.6 C2415.1 1167.5 2415 1168.5 2415.1 1169.4 C2415.1 1170.4 2415.1 1171.4 2415.2 1172.3 C2415.4 1173.1 2415.6 1174 2416 1174.7 C2416.4 1175.4 2417 1176 2417.7 1176.6 C2418.4 1177.2 2419.3 1177.6 2420 1178.1 C2420.8 1178.6 2421.7 1179.1 2422.4 1179.7 C2423.1 1180.2 2423.7 1180.8 2424.1 1181.6 C2424.5 1182.3 2424.7 1183.1 2424.9 1184 C2425 1184.9 2425 1186.3 2425 1186.8" stroke-width="3.8"/>
<path d="M2408 1107.3 C2408 1107.8 2408 1109.3 2408.2 1110.1 C2408.3 1111 2408.6 1111.8 2409 1112.6 C2409.4 1113.3 2410 1113.9 2410.7 1114.4 C2411.4 1115 2412.3 1115.4 2413.1 1116 C2413.9 1116.5 2414.8 1116.9 2415.4 1117.5 C2416.1 1118 2416.7 1118.6 2417.2 1119.3 C2417.6 1120.1 2417.8 1120.9 2418 1121.8 C2418.1 1122.6 2418.1 1123.6 2418.1 1124.6 C2418.2 1125.5 2418.1 1126.5 2418.3 1127.4 C2418.5 1128.2 2418.7 1129.1 2419.1 1129.8 C2419.5 1130.5 2420.2 1131.1 2420.8 1131.7 C2421.5 1132.2 2422.4 1132.7 2423.2 1133.2 C2424 1133.7 2424.9 1134.1 2425.6 1134.7 C2426.3 1135.3 2426.9 1135.9 2427.3 1136.6 C2427.7 1137.3 2427.9 1138.1 2428.1 1139 C2428.3 1139.9 2428.2 1140.9 2428.3 1141.8 C2428.3 1142.8 2428.2 1143.7 2428.4 1144.6 C2428.5 1145.5 2428.7 1146.3 2429.1 1147.1 C2429.5 1147.8 2430.2 1148.4 2430.8 1149 C2431.5 1149.6 2432.4 1150 2433.2 1150.5 C2433.9 1151.1 2434.8 1151.5 2435.5 1152.1 C2436.2 1152.7 2436.8 1153.3 2437.2 1154 C2437.6 1154.8 2437.8 1155.6 2437.9 1156.5 C2438.1 1157.3 2438 1158.3 2438 1159.3 C2438.1 1160.2 2438 1161.2 2438.1 1162.1 C2438.3 1163 2438.5 1163.8 2438.9 1164.5 C2439.3 1165.2 2439.9 1165.9 2440.6 1166.4 C2441.2 1167 2442.1 1167.5 2442.9 1168 C2443.7 1168.5 2444.9 1169.3 2445.2 1169.6" stroke-width="3.8"/>
<path d="M3227 933 L3393.7 919.7 L3413.7 918" stroke-width="3.8"/>
<path d="M3227 959.7 L3393.7 942 L3540.3 919.7" stroke-width="3.4"/>
<circle cx="3237" cy="933.7" r="3.4" fill="#000" stroke="none"/>
<circle cx="3288.7" cy="928.7" r="3.4" fill="#000" stroke="none"/>
<circle cx="3340.3" cy="924" r="3.4" fill="#000" stroke="none"/>
<circle cx="3393.7" cy="919.7" r="3.4" fill="#000" stroke="none"/>
<circle cx="3265.3" cy="944" r="1.9" fill="#000" stroke="none"/>
<circle cx="3310.3" cy="939.7" r="1.9" fill="#000" stroke="none"/>
<circle cx="3365.3" cy="934" r="1.9" fill="#000" stroke="none"/>
<circle cx="3415.3" cy="926.3" r="1.9" fill="#000" stroke="none"/>
<circle cx="3490.3" cy="924.7" r="1.9" fill="#000" stroke="none"/>
<circle cx="3240.3" cy="954.7" r="1.9" fill="#000" stroke="none"/>
<circle cx="3290.3" cy="951.3" r="1.9" fill="#000" stroke="none"/>
<circle cx="3340.3" cy="947.3" r="1.9" fill="#000" stroke="none"/>
<circle cx="3393.7" cy="939.7" r="1.9" fill="#000" stroke="none"/>
<circle cx="3442" cy="933" r="1.9" fill="#000" stroke="none"/>
<path d="M3227 1089.7 L3320.3 1077.3 L3325.3 1081.3 L3329.7 1133" stroke-width="3.1" stroke-dasharray="17 6"/>
<path d="M3443.7 1114.7 L3440.3 1058 L3558.7 1039.7 L3540.3 919.7" stroke-width="3.1" stroke-dasharray="17 6"/>
<path d="M3263.7 1086.3 L3333.7 1054.7" stroke-width="3.1"/>
<circle cx="3351" cy="1045.7" r="4.5" fill="#000" stroke="none"/>
<path d="M3375.3 1036.3 L3440.3 1008" stroke-width="3.1"/>
<circle cx="3460.3" cy="998.7" r="4.5" fill="#000" stroke="none"/>
<path d="M3478.7 990.7 L3538.7 964.7" stroke-width="3.1"/>
<circle cx="3548.7" cy="955.3" r="4.5" fill="#000" stroke="none"/>
<path d="M3563.7 948 L3613.7 919.7" stroke-width="3.1"/>
<circle cx="3245.3" cy="1094" r="3.8" fill="#000" stroke="none"/>
<path d="M3553.7 1006.3 C3560.3 1001.1 3575.9 984.4 3593.7 974.7 C3611.4 964.9 3638.1 954.7 3660.3 948 C3682.6 941.3 3705.6 937.6 3727 934.7 C3748.4 931.8 3778.4 931.3 3788.7 930.7" stroke-width="2.8"/>
<circle cx="3922.7" cy="1104" r="2" fill="#000" stroke="none"/>
</svg></body></html>
